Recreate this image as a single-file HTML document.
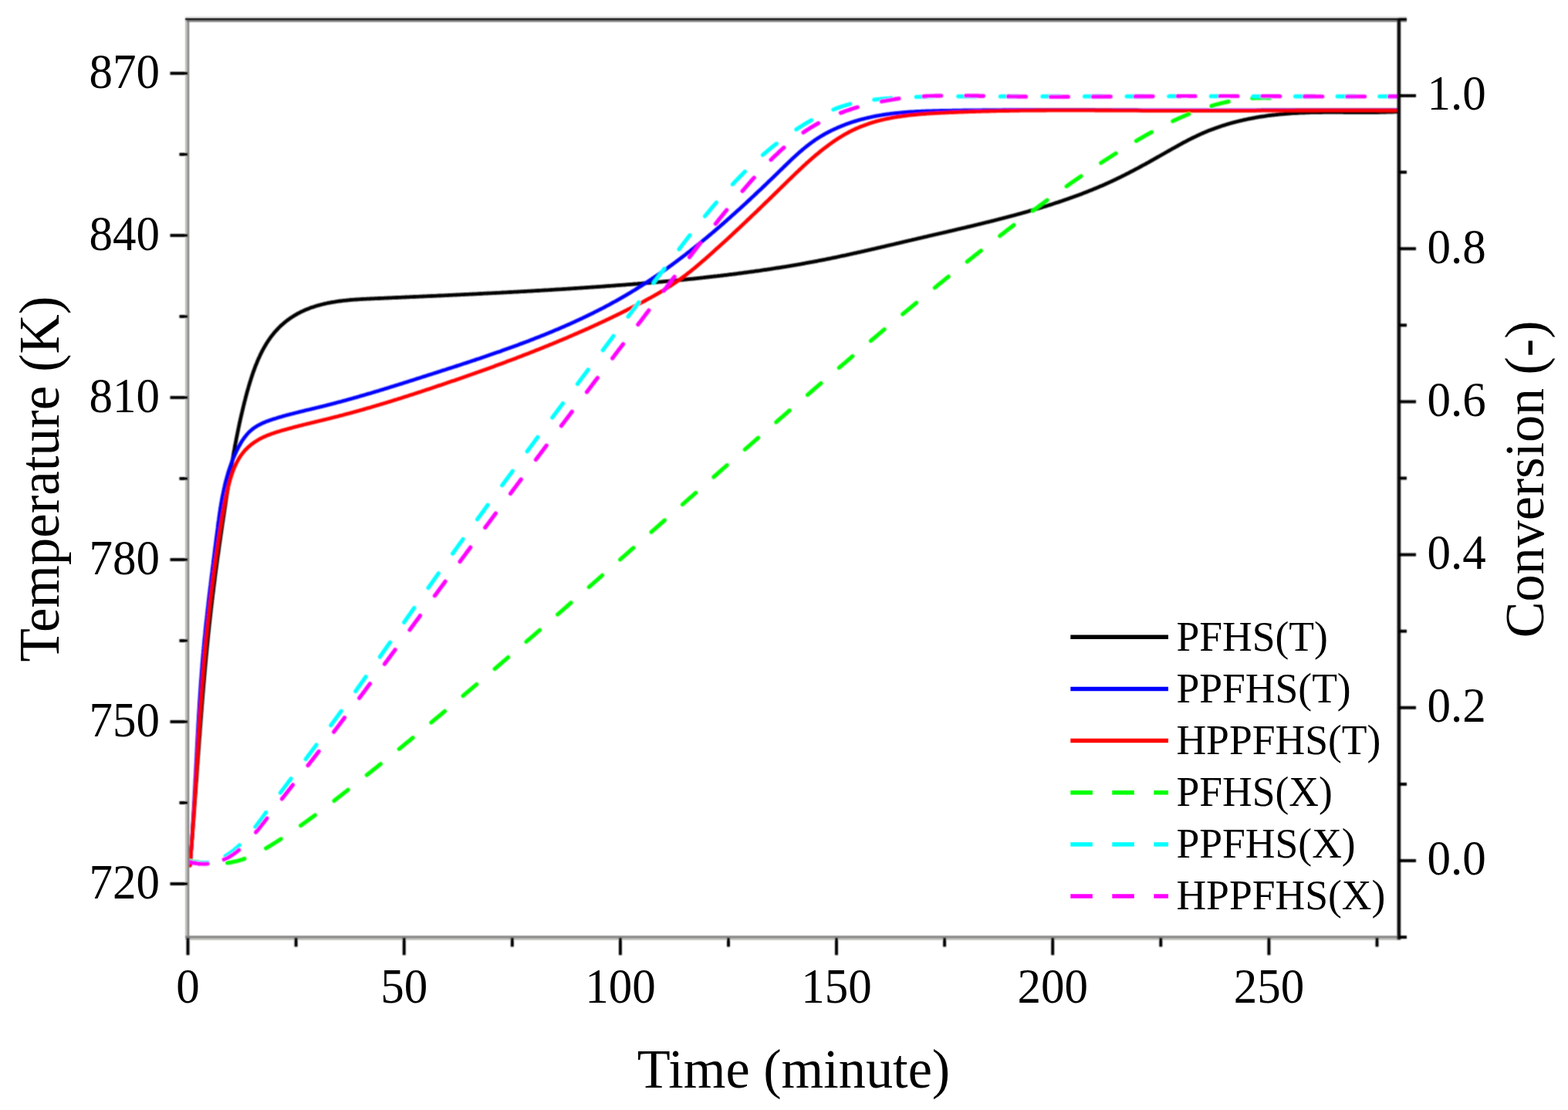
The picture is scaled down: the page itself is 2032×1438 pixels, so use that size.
<!DOCTYPE html><html><head><meta charset="utf-8"><style>html,body{margin:0;padding:0;background:#fff}svg{display:block}text{font-family:"Liberation Serif","Times New Roman",serif;fill:#000}</style></head><body>
<svg width="2032" height="1438" viewBox="0 0 2032 1438">
<rect width="2032" height="1438" fill="#fff"/>
<defs><clipPath id="pc"><rect x="243" y="23" width="1569" height="1192"/></clipPath><filter id="bl" filterUnits="userSpaceOnUse" x="0" y="0" width="2032" height="1438"><feConvolveMatrix order="3" kernelMatrix="0.0625 0.125 0.0625 0.125 0.25 0.125 0.0625 0.125 0.0625" edgeMode="none"/></filter></defs>
<g filter="url(#bl)">
<g clip-path="url(#pc)" fill="none" stroke-linejoin="round">
<path d="M246.2 1121.0L246.3 1119.5 246.4 1118.0 246.6 1116.5 246.7 1115.0 246.8 1113.5 246.9 1112.0 247.1 1110.5 247.2 1109.0 247.3 1107.5 247.4 1106.0 247.5 1104.5 247.7 1103.0 247.8 1101.5 247.9 1100.0 248.0 1098.5 248.1 1097.0 248.3 1095.6 248.4 1094.1 248.5 1092.6 248.6 1091.1 248.7 1089.6 248.8 1088.1 249.0 1086.6 249.1 1085.1 249.2 1083.6 249.3 1082.1 249.4 1080.6 249.5 1079.1 249.6 1077.6 249.8 1076.1 249.9 1074.6 250.0 1073.1 250.1 1071.6 250.2 1070.1 250.3 1068.6 250.4 1067.1 250.5 1065.6 250.7 1064.1 250.8 1062.6 250.9 1061.1 251.0 1059.6 251.1 1058.1 251.2 1056.7 251.3 1055.2 251.4 1053.7 251.5 1052.2 251.7 1050.7 251.8 1049.2 251.9 1047.7 252.0 1046.2 252.1 1044.7 252.2 1043.2 252.3 1041.7 252.4 1040.2 252.5 1038.7 252.6 1037.2 252.7 1035.7 252.8 1034.2 253.0 1032.7 253.1 1031.2 253.2 1029.7 253.3 1028.2 253.4 1026.8 253.5 1025.3 253.6 1023.8 253.7 1022.3 253.8 1020.8 253.9 1019.3 254.0 1017.8 254.1 1016.3 254.2 1014.8 254.3 1013.3 254.5 1011.8 254.6 1010.3 254.7 1008.8 254.8 1007.3 254.9 1005.8 255.0 1004.3 255.1 1002.8 255.2 1001.3 255.3 999.8 255.4 998.4 255.5 996.9 255.6 995.4 255.7 993.9 255.8 992.4 255.9 990.9 256.1 989.4 256.2 987.9 256.3 986.4 256.4 984.9 256.5 983.4 256.6 981.9 256.7 980.4 256.8 978.9 256.9 977.4 257.0 975.9 257.1 974.5 257.2 973.0 257.3 971.5 257.5 970.0 257.6 968.5 257.7 967.0 257.8 965.5 257.9 964.0 258.0 962.5 258.1 961.0 258.2 959.5 258.3 958.0 258.4 956.5 258.5 955.0 258.7 953.5 258.8 952.0 258.9 950.6 259.0 949.1 259.1 947.6 259.2 946.1 259.3 944.6 259.4 943.1 259.5 941.6 259.7 940.1 259.8 938.6 259.9 937.1 260.0 935.6 260.1 934.1 260.2 932.6 260.3 931.1 260.5 929.6 260.6 928.2 260.7 926.7 260.8 925.2 260.9 923.7 261.0 922.2 261.2 920.7 261.3 919.2 261.4 917.7 261.5 916.2 261.6 914.7 261.7 913.2 261.9 911.7 262.0 910.2 262.1 908.7 262.2 907.2 262.3 905.8 262.5 904.3 262.6 902.8 262.7 901.3 262.8 899.8 262.9 898.3 263.1 896.8 263.2 895.3 263.3 893.8 263.4 892.3 263.6 890.8 263.7 889.3 263.8 887.8 263.9 886.3 264.1 884.9 264.2 883.4 264.3 881.9 264.5 880.4 264.6 878.9 264.7 877.4 264.8 875.9 265.0 874.4 265.1 872.9 265.2 871.4 265.4 869.9 265.5 868.4 265.6 866.9 265.8 865.4 265.9 863.9 266.0 862.5 266.2 861.0 266.3 859.5 266.4 858.0 266.6 856.5 266.7 855.0 266.9 853.5 267.0 852.0 267.1 850.5 267.3 849.0 267.4 847.5 267.6 846.0 267.7 844.5 267.9 843.0 268.0 841.6 268.1 840.1 268.3 838.6 268.4 837.1 268.6 835.6 268.7 834.1 268.9 832.6 269.0 831.1 269.2 829.6 269.3 828.1 269.5 826.6 269.6 825.1 269.8 823.6 269.9 822.1 270.1 820.7 270.2 819.2 270.4 817.7 270.6 816.2 270.7 814.7 270.9 813.2 271.0 811.7 271.2 810.2 271.3 808.7 271.5 807.2 271.7 805.7 271.8 804.2 272.0 802.7 272.2 801.2 272.3 799.7 272.5 798.3 272.7 796.8 272.8 795.3 273.0 793.8 273.2 792.3 273.3 790.8 273.5 789.3 273.7 787.8 273.9 786.3 274.0 784.8 274.2 783.3 274.4 781.8 274.6 780.3 274.7 778.8 274.9 777.3 275.1 775.9 275.3 774.4 275.4 772.9 275.6 771.4 275.8 769.9 276.0 768.4 276.2 766.9 276.4 765.4 276.6 763.9 276.7 762.4 276.9 760.9 277.1 759.4 277.3 757.9 277.5 756.4 277.7 755.0 277.9 753.5 278.1 752.0 278.3 750.5 278.4 749.0 278.6 747.5 278.8 746.0 279.0 744.5 279.2 743.0 279.4 741.5 279.6 740.0 279.8 738.5 280.0 737.0 280.2 735.6 280.4 734.1 280.6 732.6 280.8 731.1 281.0 729.6 281.2 728.1 281.4 726.6 281.6 725.1 281.8 723.6 282.0 722.1 282.2 720.7 282.4 719.2 282.7 717.7 282.9 716.2 283.1 714.7 283.3 713.2 283.5 711.7 283.7 710.2 283.9 708.7 284.1 707.3 284.3 705.8 284.5 704.3 284.8 702.8 285.0 701.3 285.2 699.8 285.4 698.3 285.6 696.9 285.8 695.4 286.0 693.9 286.2 692.4 286.5 690.9 286.7 689.4 286.9 687.9 287.1 686.5 287.3 685.0 287.6 683.5 287.8 682.0 288.0 680.5 288.2 679.0 288.4 677.6 288.7 676.1 288.9 674.6 289.1 673.1 289.3 671.6 289.5 670.2 289.8 668.7 290.0 667.2 290.2 665.7 290.4 664.2 290.7 662.8 290.9 661.3 291.1 659.8 291.3 658.3 291.6 656.8 291.8 655.4 292.0 653.9 292.2 652.4 292.5 650.9 292.7 649.5 292.9 648.0 293.1 646.5 293.4 645.0 293.6 643.6 293.8 642.1 294.1 640.6 294.3 639.1 294.5 637.7 294.7 636.2 295.0 634.7 295.2 633.3 295.4 631.8 295.7 630.3 295.9 628.8 296.1 627.4 296.4 625.9 296.6 624.4 296.8 623.0 297.1 621.5 297.3 620.0 297.5 618.6 297.8 617.1 298.0 615.6 298.2 614.2 298.5 612.7 298.7 611.2 299.0 609.8 299.2 608.3 299.4 606.8 299.7 605.4 299.9 603.9 300.2 602.4 300.4 601.0 300.7 599.5 300.9 598.0 301.2 596.6 301.4 595.1 301.7 593.6 301.9 592.2 302.2 590.7 302.4 589.3 302.7 587.8 303.0 586.3 303.2 584.9 303.5 583.4 303.8 581.9 304.0 580.5 304.3 579.0 304.6 577.5 304.8 576.1 305.1 574.6 305.4 573.1 305.7 571.7 306.0 570.2 306.2 568.7 306.5 567.3 306.8 565.8 307.1 564.4 307.4 562.9 307.7 561.4 308.0 560.0 308.3 558.5 308.6 557.0 308.9 555.6 309.2 554.1 309.5 552.6 309.8 551.2 310.1 549.7 310.4 548.2 310.8 546.7 311.1 545.3 311.4 543.8 311.7 542.3 312.1 540.9 312.4 539.4 312.7 537.9 313.1 536.5 313.4 535.0 313.8 533.5 314.1 532.0 314.5 530.6 314.8 529.1 315.2 527.6 315.5 526.1 315.9 524.7 316.3 523.2 316.6 521.7 317.0 520.2 317.4 518.8 317.8 517.3 318.1 515.8 318.5 514.3 318.9 512.9 319.3 511.4 319.7 509.9 320.1 508.4 320.5 506.9 320.9 505.5 321.4 504.0 321.8 502.5 322.2 501.0 322.6 499.5 323.1 498.1 323.5 496.6 324.0 495.1 324.4 493.6 324.9 492.2 325.3 490.7 325.8 489.2 326.3 487.8 326.8 486.3 327.2 484.9 327.7 483.4 328.2 482.0 328.8 480.5 329.3 479.1 329.8 477.7 330.3 476.2 330.9 474.8 331.4 473.4 332.0 472.0 332.6 470.6 333.1 469.2 333.7 467.8 334.3 466.4 334.9 465.0 335.5 463.6 336.2 462.2 336.8 460.9 337.4 459.5 338.1 458.2 338.7 456.9 339.4 455.5 340.1 454.2 340.8 452.9 341.5 451.6 342.2 450.3 343.0 449.0 343.7 447.7 344.5 446.5 345.2 445.2 346.0 444.0 346.8 442.7 347.6 441.5 348.4 440.3 349.2 439.1 350.1 437.9 350.9 436.7 351.8 435.6 352.7 434.4 353.6 433.3 354.5 432.2 355.4 431.0 356.4 429.9 357.3 428.9 358.3 427.8 359.3 426.7 360.3 425.7 361.3 424.6 362.3 423.6 363.3 422.6 364.4 421.6 365.5 420.7 366.6 419.7 367.7 418.8 368.8 417.8 369.9 416.9 371.0 416.0 372.2 415.1 373.4 414.3 374.5 413.4 375.7 412.6 376.9 411.8 378.1 410.9 379.3 410.2 380.6 409.4 381.8 408.6 383.1 407.9 384.4 407.1 385.6 406.4 386.9 405.7 388.2 405.1 389.5 404.4 390.8 403.7 392.2 403.1 393.5 402.5 394.8 401.9 396.2 401.3 397.6 400.7 398.9 400.2 400.3 399.7 401.7 399.1 403.1 398.6 404.5 398.1 405.9 397.7 407.3 397.2 408.7 396.7 410.1 396.3 411.6 395.9 413.0 395.5 414.4 395.1 415.9 394.7 417.3 394.3 418.8 394.0 420.2 393.6 421.7 393.3 423.1 393.0 424.6 392.7 426.0 392.4 427.5 392.1 429.0 391.8 430.4 391.5 431.9 391.3 433.4 391.1 434.9 390.8 436.4 390.6 437.8 390.4 439.3 390.2 440.8 390.0 442.3 389.8 443.8 389.6 445.3 389.4 446.8 389.3 448.3 389.1 449.8 389.0 451.3 388.8 452.8 388.7 454.3 388.5 455.8 388.4 457.3 388.3 458.8 388.2 460.3 388.1 461.8 388.0 463.3 387.9 464.9 387.8 466.4 387.7 467.9 387.6 469.4 387.5 470.9 387.4 472.4 387.4 473.9 387.3 475.5 387.2 477.0 387.1 478.5 387.1 480.0 387.0 481.5 386.9 483.0 386.9 484.6 386.8 486.1 386.7 487.6 386.7 489.1 386.6 490.6 386.5 492.1 386.5 493.6 386.4 495.2 386.3 496.7 386.3 498.2 386.2 499.7 386.1 501.2 386.1 502.7 386.0 504.2 385.9 505.8 385.9 507.3 385.8 508.8 385.7 510.3 385.7 511.8 385.6 513.3 385.5 514.8 385.5 516.3 385.4 517.8 385.3 519.4 385.3 520.9 385.2 522.4 385.1 523.9 385.1 525.4 385.0 526.9 384.9 528.4 384.9 529.9 384.8 531.4 384.7 532.9 384.7 534.4 384.6 536.0 384.5 537.5 384.5 539.0 384.4 540.5 384.3 542.0 384.3 543.5 384.2 545.0 384.1 546.5 384.1 548.0 384.0 549.5 383.9 551.0 383.9 552.5 383.8 554.0 383.7 555.5 383.7 557.0 383.6 558.5 383.5 560.0 383.5 561.5 383.4 563.1 383.3 564.6 383.3 566.1 383.2 567.6 383.1 569.1 383.0 570.6 383.0 572.1 382.9 573.6 382.8 575.1 382.8 576.6 382.7 578.1 382.6 579.6 382.6 581.1 382.5 582.6 382.4 584.1 382.4 585.6 382.3 587.1 382.2 588.6 382.1 590.1 382.1 591.6 382.0 593.1 381.9 594.6 381.9 596.1 381.8 597.6 381.7 599.1 381.6 600.6 381.6 602.1 381.5 603.6 381.4 605.1 381.4 606.6 381.3 608.1 381.2 609.6 381.1 611.1 381.1 612.6 381.0 614.1 380.9 615.6 380.8 617.1 380.8 618.6 380.7 620.1 380.6 621.6 380.5 623.1 380.5 624.6 380.4 626.0 380.3 627.5 380.2 629.0 380.2 630.5 380.1 632.0 380.0 633.5 379.9 635.0 379.9 636.5 379.8 638.0 379.7 639.5 379.6 641.0 379.6 642.5 379.5 644.0 379.4 645.5 379.3 647.0 379.3 648.5 379.2 650.0 379.1 651.5 379.0 653.0 378.9 654.5 378.9 656.0 378.8 657.5 378.7 658.9 378.6 660.4 378.5 661.9 378.5 663.4 378.4 664.9 378.3 666.4 378.2 667.9 378.1 669.4 378.1 670.9 378.0 672.4 377.9 673.9 377.8 675.4 377.7 676.9 377.6 678.4 377.6 679.9 377.5 681.4 377.4 682.8 377.3 684.3 377.2 685.8 377.1 687.3 377.1 688.8 377.0 690.3 376.9 691.8 376.8 693.3 376.7 694.8 376.6 696.3 376.5 697.8 376.5 699.3 376.4 700.8 376.3 702.2 376.2 703.7 376.1 705.2 376.0 706.7 375.9 708.2 375.8 709.7 375.8 711.2 375.7 712.7 375.6 714.2 375.5 715.7 375.4 717.2 375.3 718.7 375.2 720.2 375.1 721.6 375.0 723.1 374.9 724.6 374.8 726.1 374.8 727.6 374.7 729.1 374.6 730.6 374.5 732.1 374.4 733.6 374.3 735.1 374.2 736.6 374.1 738.1 374.0 739.6 373.9 741.0 373.8 742.5 373.7 744.0 373.6 745.5 373.5 747.0 373.4 748.5 373.3 750.0 373.2 751.5 373.1 753.0 373.0 754.5 372.9 756.0 372.8 757.5 372.7 758.9 372.6 760.4 372.5 761.9 372.4 763.4 372.3 764.9 372.2 766.4 372.1 767.9 372.0 769.4 371.9 770.9 371.8 772.4 371.7 773.9 371.6 775.4 371.5 776.9 371.4 778.3 371.3 779.8 371.2 781.3 371.1 782.8 371.0 784.3 370.9 785.8 370.7 787.3 370.6 788.8 370.5 790.3 370.4 791.8 370.3 793.3 370.2 794.8 370.1 796.3 370.0 797.8 369.9 799.3 369.7 800.7 369.6 802.2 369.5 803.7 369.4 805.2 369.3 806.7 369.2 808.2 369.1 809.7 369.0 811.2 368.8 812.7 368.7 814.2 368.6 815.7 368.5 817.2 368.4 818.7 368.3 820.2 368.1 821.7 368.0 823.2 367.9 824.7 367.8 826.1 367.7 827.6 367.5 829.1 367.4 830.6 367.3 832.1 367.2 833.6 367.0 835.1 366.9 836.6 366.8 838.1 366.7 839.6 366.5 841.1 366.4 842.6 366.3 844.1 366.2 845.6 366.0 847.1 365.9 848.6 365.8 850.1 365.6 851.6 365.5 853.1 365.4 854.6 365.2 856.1 365.1 857.5 365.0 859.0 364.8 860.5 364.7 862.0 364.6 863.5 364.4 865.0 364.3 866.5 364.2 868.0 364.0 869.5 363.9 871.0 363.8 872.5 363.6 874.0 363.5 875.5 363.3 877.0 363.2 878.5 363.0 880.0 362.9 881.5 362.8 883.0 362.6 884.5 362.5 886.0 362.3 887.5 362.2 888.9 362.0 890.4 361.9 891.9 361.7 893.4 361.6 894.9 361.4 896.4 361.3 897.9 361.1 899.4 361.0 900.9 360.8 902.4 360.6 903.9 360.5 905.4 360.3 906.9 360.2 908.4 360.0 909.9 359.8 911.4 359.7 912.9 359.5 914.3 359.4 915.8 359.2 917.3 359.0 918.8 358.9 920.3 358.7 921.8 358.5 923.3 358.4 924.8 358.2 926.3 358.0 927.8 357.8 929.3 357.7 930.8 357.5 932.3 357.3 933.8 357.2 935.2 357.0 936.7 356.8 938.2 356.6 939.7 356.4 941.2 356.3 942.7 356.1 944.2 355.9 945.7 355.7 947.2 355.5 948.7 355.3 950.2 355.2 951.6 355.0 953.1 354.8 954.6 354.6 956.1 354.4 957.6 354.2 959.1 354.0 960.6 353.8 962.1 353.6 963.6 353.4 965.1 353.2 966.5 353.0 968.0 352.8 969.5 352.6 971.0 352.4 972.5 352.2 974.0 352.0 975.5 351.8 977.0 351.6 978.4 351.4 979.9 351.2 981.4 351.0 982.9 350.8 984.4 350.6 985.9 350.3 987.4 350.1 988.8 349.9 990.3 349.7 991.8 349.5 993.3 349.3 994.8 349.0 996.3 348.8 997.8 348.6 999.2 348.4 1000.7 348.1 1002.2 347.9 1003.7 347.7 1005.2 347.4 1006.7 347.2 1008.1 347.0 1009.6 346.8 1011.1 346.5 1012.6 346.3 1014.1 346.0 1015.5 345.8 1017.0 345.6 1018.5 345.3 1020.0 345.1 1021.5 344.8 1022.9 344.6 1024.4 344.3 1025.9 344.1 1027.4 343.8 1028.9 343.6 1030.3 343.3 1031.8 343.1 1033.3 342.8 1034.8 342.6 1036.2 342.3 1037.7 342.1 1039.2 341.8 1040.7 341.5 1042.2 341.3 1043.6 341.0 1045.1 340.7 1046.6 340.5 1048.1 340.2 1049.5 339.9 1051.0 339.6 1052.5 339.4 1053.9 339.1 1055.4 338.8 1056.9 338.5 1058.4 338.3 1059.8 338.0 1061.3 337.7 1062.8 337.4 1064.3 337.1 1065.7 336.8 1067.2 336.5 1068.7 336.3 1070.1 336.0 1071.6 335.7 1073.1 335.4 1074.5 335.1 1076.0 334.8 1077.5 334.5 1078.9 334.2 1080.4 333.9 1081.9 333.6 1083.3 333.3 1084.8 333.0 1086.3 332.7 1087.7 332.3 1089.2 332.0 1090.7 331.7 1092.1 331.4 1093.6 331.1 1095.1 330.8 1096.5 330.5 1098.0 330.1 1099.5 329.8 1100.9 329.5 1102.4 329.2 1103.8 328.9 1105.3 328.5 1106.8 328.2 1108.2 327.9 1109.7 327.6 1111.2 327.2 1112.6 326.9 1114.1 326.6 1115.5 326.3 1117.0 325.9 1118.5 325.6 1119.9 325.3 1121.4 324.9 1122.8 324.6 1124.3 324.3 1125.8 323.9 1127.2 323.6 1128.7 323.3 1130.2 322.9 1131.6 322.6 1133.1 322.3 1134.5 321.9 1136.0 321.6 1137.4 321.2 1138.9 320.9 1140.4 320.6 1141.8 320.2 1143.3 319.9 1144.7 319.6 1146.2 319.2 1147.7 318.9 1149.1 318.5 1150.6 318.2 1152.0 317.8 1153.5 317.5 1155.0 317.2 1156.4 316.8 1157.9 316.5 1159.3 316.1 1160.8 315.8 1162.3 315.4 1163.7 315.1 1165.2 314.8 1166.6 314.4 1168.1 314.1 1169.5 313.7 1171.0 313.4 1172.5 313.0 1173.9 312.7 1175.4 312.4 1176.8 312.0 1178.3 311.7 1179.8 311.3 1181.2 311.0 1182.7 310.6 1184.1 310.3 1185.6 310.0 1187.1 309.6 1188.5 309.3 1190.0 308.9 1191.4 308.6 1192.9 308.3 1194.4 307.9 1195.8 307.6 1197.3 307.2 1198.7 306.9 1200.2 306.6 1201.7 306.2 1203.1 305.9 1204.6 305.5 1206.1 305.2 1207.5 304.9 1209.0 304.5 1210.4 304.2 1211.9 303.8 1213.4 303.5 1214.8 303.2 1216.3 302.8 1217.7 302.5 1219.2 302.2 1220.7 301.8 1222.1 301.5 1223.6 301.1 1225.1 300.8 1226.5 300.5 1228.0 300.1 1229.4 299.8 1230.9 299.4 1232.4 299.1 1233.8 298.8 1235.3 298.4 1236.7 298.1 1238.2 297.7 1239.7 297.4 1241.1 297.0 1242.6 296.7 1244.0 296.4 1245.5 296.0 1247.0 295.7 1248.4 295.3 1249.9 295.0 1251.4 294.6 1252.8 294.3 1254.3 293.9 1255.7 293.6 1257.2 293.3 1258.7 292.9 1260.1 292.6 1261.6 292.2 1263.0 291.9 1264.5 291.5 1265.9 291.2 1267.4 290.8 1268.9 290.4 1270.3 290.1 1271.8 289.7 1273.2 289.4 1274.7 289.0 1276.1 288.7 1277.6 288.3 1279.1 287.9 1280.5 287.6 1282.0 287.2 1283.4 286.9 1284.9 286.5 1286.3 286.1 1287.8 285.8 1289.3 285.4 1290.7 285.0 1292.2 284.7 1293.6 284.3 1295.1 283.9 1296.5 283.5 1298.0 283.2 1299.4 282.8 1300.9 282.4 1302.3 282.0 1303.8 281.7 1305.2 281.3 1306.7 280.9 1308.1 280.5 1309.6 280.1 1311.0 279.7 1312.5 279.4 1313.9 279.0 1315.4 278.6 1316.8 278.2 1318.3 277.8 1319.7 277.4 1321.2 277.0 1322.6 276.6 1324.1 276.2 1325.5 275.8 1327.0 275.4 1328.4 275.0 1329.8 274.6 1331.3 274.2 1332.7 273.8 1334.2 273.3 1335.6 272.9 1337.1 272.5 1338.5 272.1 1339.9 271.7 1341.4 271.3 1342.8 270.8 1344.3 270.4 1345.7 270.0 1347.1 269.5 1348.6 269.1 1350.0 268.7 1351.4 268.2 1352.9 267.8 1354.3 267.4 1355.7 266.9 1357.2 266.5 1358.6 266.0 1360.0 265.6 1361.5 265.1 1362.9 264.7 1364.3 264.2 1365.7 263.8 1367.2 263.3 1368.6 262.8 1370.0 262.4 1371.4 261.9 1372.9 261.4 1374.3 260.9 1375.7 260.5 1377.1 260.0 1378.5 259.5 1379.9 259.0 1381.4 258.5 1382.8 258.0 1384.2 257.6 1385.6 257.1 1387.0 256.6 1388.4 256.1 1389.8 255.6 1391.2 255.0 1392.6 254.5 1394.1 254.0 1395.5 253.5 1396.9 253.0 1398.3 252.5 1399.7 251.9 1401.1 251.4 1402.5 250.9 1403.9 250.3 1405.3 249.8 1406.7 249.3 1408.0 248.7 1409.4 248.2 1410.8 247.6 1412.2 247.1 1413.6 246.5 1415.0 246.0 1416.4 245.4 1417.8 244.8 1419.1 244.3 1420.5 243.7 1421.9 243.1 1423.3 242.5 1424.7 241.9 1426.0 241.3 1427.4 240.8 1428.8 240.2 1430.1 239.6 1431.5 239.0 1432.9 238.3 1434.3 237.7 1435.6 237.1 1437.0 236.5 1438.3 235.9 1439.7 235.3 1441.1 234.6 1442.4 234.0 1443.8 233.4 1445.1 232.7 1446.5 232.1 1447.8 231.4 1449.2 230.8 1450.5 230.1 1451.9 229.5 1453.2 228.8 1454.5 228.1 1455.9 227.5 1457.2 226.8 1458.6 226.1 1459.9 225.4 1461.2 224.8 1462.6 224.1 1463.9 223.4 1465.2 222.7 1466.6 222.0 1467.9 221.3 1469.2 220.6 1470.6 219.9 1471.9 219.2 1473.2 218.5 1474.5 217.8 1475.9 217.1 1477.2 216.4 1478.5 215.7 1479.8 214.9 1481.2 214.2 1482.5 213.5 1483.8 212.8 1485.1 212.1 1486.4 211.3 1487.8 210.6 1489.1 209.9 1490.4 209.1 1491.7 208.4 1493.0 207.7 1494.3 206.9 1495.7 206.2 1497.0 205.4 1498.3 204.7 1499.6 203.9 1500.9 203.2 1502.2 202.5 1503.5 201.7 1504.8 201.0 1506.2 200.2 1507.5 199.5 1508.8 198.7 1510.1 198.0 1511.4 197.2 1512.7 196.5 1514.0 195.7 1515.4 195.0 1516.7 194.2 1518.0 193.5 1519.3 192.7 1520.6 192.0 1521.9 191.3 1523.3 190.5 1524.6 189.8 1525.9 189.1 1527.2 188.3 1528.5 187.6 1529.9 186.9 1531.2 186.2 1532.5 185.4 1533.8 184.7 1535.2 184.0 1536.5 183.3 1537.8 182.6 1539.2 181.9 1540.5 181.2 1541.8 180.5 1543.2 179.9 1544.5 179.2 1545.9 178.5 1547.2 177.9 1548.6 177.2 1549.9 176.6 1551.3 175.9 1552.6 175.3 1554.0 174.7 1555.3 174.0 1556.7 173.4 1558.1 172.8 1559.4 172.2 1560.8 171.6 1562.2 171.0 1563.5 170.5 1564.9 169.9 1566.3 169.3 1567.7 168.8 1569.1 168.3 1570.5 167.7 1571.9 167.2 1573.2 166.7 1574.6 166.2 1576.0 165.7 1577.4 165.2 1578.9 164.7 1580.3 164.2 1581.7 163.7 1583.1 163.3 1584.5 162.8 1585.9 162.4 1587.3 161.9 1588.7 161.5 1590.2 161.0 1591.6 160.6 1593.0 160.2 1594.4 159.8 1595.9 159.4 1597.3 159.0 1598.7 158.6 1600.2 158.2 1601.6 157.9 1603.1 157.5 1604.5 157.1 1605.9 156.8 1607.4 156.4 1608.8 156.1 1610.3 155.8 1611.7 155.4 1613.2 155.1 1614.6 154.8 1616.1 154.5 1617.6 154.2 1619.0 153.9 1620.5 153.6 1621.9 153.3 1623.4 153.0 1624.9 152.8 1626.3 152.5 1627.8 152.2 1629.3 152.0 1630.8 151.7 1632.2 151.5 1633.7 151.2 1635.2 151.0 1636.7 150.8 1638.1 150.6 1639.6 150.4 1641.1 150.1 1642.6 149.9 1644.1 149.7 1645.5 149.5 1647.0 149.4 1648.5 149.2 1650.0 149.0 1651.5 148.8 1653.0 148.7 1654.5 148.5 1655.9 148.3 1657.4 148.2 1658.9 148.0 1660.4 147.9 1661.9 147.8 1663.4 147.6 1664.9 147.5 1666.4 147.4 1667.9 147.3 1669.4 147.1 1670.9 147.0 1672.4 146.9 1673.9 146.8 1675.4 146.7 1676.9 146.6 1678.4 146.5 1679.9 146.5 1681.4 146.4 1682.9 146.3 1684.4 146.2 1685.9 146.2 1687.4 146.1 1688.9 146.0 1690.4 146.0 1691.9 145.9 1693.4 145.9 1694.9 145.8 1696.4 145.8 1697.9 145.7 1699.4 145.7 1700.9 145.7 1702.4 145.6 1703.9 145.6 1705.4 145.6 1706.9 145.5 1708.4 145.5 1709.9 145.5 1711.5 145.5 1713.0 145.5 1714.5 145.4 1716.0 145.4 1717.5 145.4 1719.0 145.4 1720.5 145.4 1722.0 145.4 1723.5 145.4 1725.0 145.4 1726.5 145.4 1728.0 145.4 1729.5 145.4 1731.0 145.4 1732.5 145.4 1734.0 145.4 1735.5 145.4 1737.1 145.4 1738.6 145.4 1740.1 145.4 1741.6 145.5 1743.1 145.5 1744.6 145.5 1746.1 145.5 1747.6 145.5 1749.1 145.5 1750.6 145.5 1752.1 145.5 1753.6 145.5 1755.1 145.5 1756.6 145.5 1758.1 145.6 1759.6 145.6 1761.1 145.6 1762.6 145.6 1764.1 145.6 1765.6 145.6 1767.1 145.6 1768.6 145.6 1770.1 145.6 1771.6 145.6 1773.1 145.6 1774.6 145.6 1776.1 145.6 1777.6 145.6 1779.1 145.5 1780.6 145.5 1782.1 145.5 1783.6 145.5 1785.1 145.5 1786.6 145.5 1788.1 145.4 1789.6 145.4 1791.1 145.4 1792.6 145.3 1794.1 145.3 1795.6 145.3 1797.1 145.2 1798.6 145.2 1800.1 145.1 1801.6 145.1 1803.1 145.0 1804.6 145.0 1806.1 144.9 1807.6 144.9 1809.0 144.8 1810.5 144.7 1812.0 144.6 1813.5 144.6 1815.0 144.5" stroke="#000" stroke-width="4.8" stroke-linecap="round"/>
<path d="M246.2 1121.0L246.3 1119.5 246.4 1118.0 246.5 1116.5 246.7 1115.0 246.8 1113.6 246.9 1112.1 247.0 1110.6 247.1 1109.1 247.2 1107.6 247.3 1106.1 247.4 1104.6 247.5 1103.1 247.7 1101.7 247.8 1100.2 247.9 1098.7 248.0 1097.2 248.1 1095.7 248.2 1094.2 248.3 1092.7 248.4 1091.2 248.5 1089.7 248.6 1088.2 248.7 1086.7 248.8 1085.2 248.9 1083.8 249.0 1082.3 249.1 1080.8 249.2 1079.3 249.3 1077.8 249.4 1076.3 249.5 1074.8 249.6 1073.3 249.7 1071.8 249.8 1070.3 249.8 1068.8 249.9 1067.3 250.0 1065.8 250.1 1064.3 250.2 1062.8 250.3 1061.3 250.4 1059.8 250.5 1058.3 250.6 1056.8 250.7 1055.3 250.7 1053.8 250.8 1052.3 250.9 1050.8 251.0 1049.3 251.1 1047.8 251.2 1046.3 251.3 1044.8 251.3 1043.3 251.4 1041.8 251.5 1040.3 251.6 1038.8 251.7 1037.3 251.8 1035.8 251.8 1034.3 251.9 1032.8 252.0 1031.3 252.1 1029.8 252.2 1028.3 252.2 1026.8 252.3 1025.3 252.4 1023.8 252.5 1022.3 252.6 1020.8 252.6 1019.3 252.7 1017.8 252.8 1016.3 252.9 1014.8 253.0 1013.3 253.0 1011.8 253.1 1010.3 253.2 1008.8 253.3 1007.3 253.4 1005.8 253.4 1004.3 253.5 1002.8 253.6 1001.3 253.7 999.8 253.7 998.3 253.8 996.8 253.9 995.3 254.0 993.8 254.1 992.3 254.1 990.8 254.2 989.3 254.3 987.8 254.4 986.3 254.4 984.8 254.5 983.3 254.6 981.8 254.7 980.3 254.8 978.8 254.8 977.3 254.9 975.8 255.0 974.3 255.1 972.8 255.1 971.3 255.2 969.7 255.3 968.2 255.4 966.7 255.5 965.2 255.5 963.7 255.6 962.2 255.7 960.7 255.8 959.2 255.9 957.7 255.9 956.2 256.0 954.7 256.1 953.2 256.2 951.7 256.3 950.2 256.4 948.7 256.4 947.2 256.5 945.7 256.6 944.2 256.7 942.7 256.8 941.2 256.8 939.7 256.9 938.2 257.0 936.7 257.1 935.2 257.2 933.7 257.3 932.2 257.4 930.7 257.4 929.2 257.5 927.7 257.6 926.2 257.7 924.7 257.8 923.2 257.9 921.7 258.0 920.2 258.1 918.7 258.2 917.2 258.3 915.7 258.3 914.2 258.4 912.7 258.5 911.2 258.6 909.7 258.7 908.2 258.8 906.7 258.9 905.2 259.0 903.7 259.1 902.2 259.2 900.7 259.3 899.2 259.4 897.7 259.5 896.2 259.6 894.7 259.7 893.2 259.8 891.7 259.9 890.2 260.0 888.7 260.1 887.2 260.2 885.7 260.3 884.2 260.4 882.7 260.5 881.3 260.6 879.8 260.8 878.3 260.9 876.8 261.0 875.3 261.1 873.8 261.2 872.3 261.3 870.8 261.4 869.3 261.5 867.8 261.7 866.3 261.8 864.8 261.9 863.3 262.0 861.8 262.1 860.4 262.2 858.9 262.4 857.4 262.5 855.9 262.6 854.4 262.7 852.9 262.9 851.4 263.0 849.9 263.1 848.4 263.2 846.9 263.4 845.5 263.5 844.0 263.6 842.5 263.8 841.0 263.9 839.5 264.0 838.0 264.2 836.5 264.3 835.1 264.5 833.6 264.6 832.1 264.7 830.6 264.9 829.1 265.0 827.6 265.2 826.1 265.3 824.7 265.5 823.2 265.6 821.7 265.8 820.2 265.9 818.7 266.1 817.3 266.2 815.8 266.4 814.3 266.5 812.8 266.7 811.3 266.8 809.8 267.0 808.4 267.1 806.9 267.3 805.4 267.5 803.9 267.6 802.4 267.8 801.0 267.9 799.5 268.1 798.0 268.3 796.5 268.4 795.0 268.6 793.6 268.8 792.1 268.9 790.6 269.1 789.1 269.3 787.6 269.4 786.2 269.6 784.7 269.8 783.2 269.9 781.7 270.1 780.2 270.3 778.8 270.4 777.3 270.6 775.8 270.8 774.3 271.0 772.8 271.1 771.3 271.3 769.9 271.5 768.4 271.7 766.9 271.9 765.4 272.0 763.9 272.2 762.5 272.4 761.0 272.6 759.5 272.8 758.0 272.9 756.5 273.1 755.0 273.3 753.5 273.5 752.1 273.7 750.6 273.8 749.1 274.0 747.6 274.2 746.1 274.4 744.6 274.6 743.1 274.8 741.7 275.0 740.2 275.1 738.7 275.3 737.2 275.5 735.7 275.7 734.2 275.9 732.7 276.1 731.2 276.3 729.7 276.4 728.2 276.6 726.7 276.8 725.3 277.0 723.8 277.2 722.3 277.4 720.8 277.6 719.3 277.8 717.8 278.0 716.3 278.1 714.8 278.3 713.3 278.5 711.8 278.7 710.3 278.9 708.8 279.1 707.3 279.3 705.8 279.5 704.3 279.7 702.8 279.9 701.3 280.0 699.8 280.2 698.3 280.4 696.7 280.6 695.2 280.8 693.7 281.0 692.2 281.2 690.7 281.4 689.2 281.6 687.7 281.8 686.2 282.0 684.7 282.2 683.2 282.3 681.6 282.5 680.1 282.7 678.6 282.9 677.1 283.1 675.6 283.4 674.1 283.6 672.6 283.8 671.1 284.0 669.5 284.2 668.0 284.4 666.5 284.6 665.0 284.9 663.5 285.1 662.0 285.3 660.5 285.5 659.0 285.8 657.5 286.0 656.0 286.3 654.5 286.5 653.0 286.8 651.5 287.0 650.0 287.3 648.5 287.6 647.0 287.8 645.5 288.1 644.0 288.4 642.6 288.7 641.1 289.0 639.6 289.3 638.1 289.6 636.6 289.9 635.2 290.2 633.7 290.5 632.2 290.9 630.8 291.2 629.3 291.5 627.8 291.9 626.4 292.2 624.9 292.6 623.5 293.0 622.0 293.4 620.6 293.8 619.2 294.2 617.7 294.6 616.3 295.0 614.9 295.4 613.4 295.8 612.0 296.3 610.6 296.7 609.2 297.2 607.8 297.6 606.4 298.1 605.0 298.6 603.6 299.1 602.2 299.6 600.8 300.1 599.4 300.6 598.0 301.1 596.7 301.7 595.3 302.2 593.9 302.8 592.6 303.4 591.2 304.0 589.9 304.6 588.6 305.2 587.2 305.8 585.9 306.4 584.6 307.1 583.2 307.7 581.9 308.4 580.6 309.1 579.3 309.7 578.0 310.5 576.8 311.2 575.5 311.9 574.2 312.7 573.0 313.4 571.7 314.2 570.5 315.0 569.3 315.9 568.1 316.7 567.0 317.6 565.8 318.5 564.7 319.4 563.6 320.3 562.5 321.2 561.5 322.2 560.4 323.2 559.4 324.3 558.5 325.3 557.5 326.4 556.6 327.5 555.7 328.6 554.9 329.8 554.0 331.0 553.3 332.2 552.5 333.4 551.7 334.7 551.0 336.0 550.3 337.3 549.7 338.6 549.0 339.9 548.4 341.2 547.8 342.6 547.2 344.0 546.6 345.4 546.1 346.8 545.6 348.2 545.0 349.6 544.5 351.0 544.0 352.5 543.6 353.9 543.1 355.4 542.6 356.8 542.2 358.3 541.7 359.7 541.3 361.2 540.8 362.7 540.4 364.1 540.0 365.6 539.6 367.0 539.1 368.5 538.7 370.0 538.3 371.5 537.9 372.9 537.5 374.4 537.1 375.9 536.7 377.3 536.3 378.8 536.0 380.3 535.6 381.8 535.2 383.2 534.8 384.7 534.5 386.2 534.1 387.7 533.7 389.1 533.4 390.6 533.0 392.1 532.6 393.6 532.3 395.1 531.9 396.5 531.5 398.0 531.2 399.5 530.8 401.0 530.5 402.4 530.1 403.9 529.8 405.4 529.4 406.9 529.1 408.3 528.7 409.8 528.3 411.3 528.0 412.8 527.6 414.2 527.3 415.7 526.9 417.2 526.6 418.7 526.2 420.1 525.8 421.6 525.5 423.0 525.1 424.5 524.7 426.0 524.4 427.4 524.0 428.9 523.6 430.4 523.2 431.8 522.9 433.3 522.5 434.7 522.1 436.2 521.7 437.6 521.3 439.1 520.9 440.5 520.6 442.0 520.2 443.4 519.8 444.9 519.4 446.3 519.0 447.8 518.6 449.2 518.2 450.7 517.8 452.1 517.4 453.6 517.0 455.0 516.6 456.4 516.2 457.9 515.8 459.3 515.4 460.8 515.0 462.2 514.6 463.6 514.2 465.1 513.8 466.5 513.3 467.9 512.9 469.4 512.5 470.8 512.1 472.2 511.7 473.7 511.3 475.1 510.8 476.5 510.4 478.0 510.0 479.4 509.6 480.8 509.2 482.3 508.7 483.7 508.3 485.1 507.9 486.5 507.4 488.0 507.0 489.4 506.6 490.8 506.2 492.2 505.7 493.7 505.3 495.1 504.9 496.5 504.4 497.9 504.0 499.4 503.5 500.8 503.1 502.2 502.7 503.6 502.2 505.1 501.8 506.5 501.3 507.9 500.9 509.3 500.5 510.7 500.0 512.2 499.6 513.6 499.1 515.0 498.7 516.4 498.2 517.9 497.8 519.3 497.4 520.7 496.9 522.1 496.5 523.5 496.0 525.0 495.6 526.4 495.1 527.8 494.7 529.2 494.2 530.6 493.8 532.1 493.3 533.5 492.9 534.9 492.4 536.3 492.0 537.8 491.5 539.2 491.0 540.6 490.6 542.0 490.1 543.4 489.7 544.9 489.2 546.3 488.8 547.7 488.3 549.1 487.9 550.6 487.4 552.0 487.0 553.4 486.5 554.8 486.0 556.3 485.6 557.7 485.1 559.1 484.7 560.5 484.2 562.0 483.8 563.4 483.3 564.8 482.9 566.2 482.4 567.7 481.9 569.1 481.5 570.5 481.0 572.0 480.6 573.4 480.1 574.8 479.6 576.2 479.2 577.7 478.7 579.1 478.3 580.5 477.8 582.0 477.3 583.4 476.9 584.8 476.4 586.2 476.0 587.7 475.5 589.1 475.0 590.5 474.6 592.0 474.1 593.4 473.6 594.8 473.2 596.3 472.7 597.7 472.2 599.1 471.8 600.5 471.3 602.0 470.8 603.4 470.4 604.8 469.9 606.3 469.4 607.7 468.9 609.1 468.5 610.5 468.0 612.0 467.5 613.4 467.0 614.8 466.6 616.3 466.1 617.7 465.6 619.1 465.1 620.5 464.7 622.0 464.2 623.4 463.7 624.8 463.2 626.3 462.7 627.7 462.2 629.1 461.8 630.5 461.3 632.0 460.8 633.4 460.3 634.8 459.8 636.2 459.3 637.7 458.8 639.1 458.3 640.5 457.8 641.9 457.3 643.4 456.8 644.8 456.3 646.2 455.9 647.6 455.4 649.0 454.9 650.5 454.3 651.9 453.8 653.3 453.3 654.7 452.8 656.1 452.3 657.6 451.8 659.0 451.3 660.4 450.8 661.8 450.3 663.2 449.8 664.6 449.3 666.1 448.7 667.5 448.2 668.9 447.7 670.3 447.2 671.7 446.7 673.1 446.1 674.5 445.6 676.0 445.1 677.4 444.6 678.8 444.0 680.2 443.5 681.6 443.0 683.0 442.4 684.4 441.9 685.8 441.4 687.2 440.8 688.6 440.3 690.0 439.7 691.4 439.2 692.8 438.6 694.2 438.1 695.6 437.5 697.0 437.0 698.4 436.4 699.8 435.9 701.2 435.3 702.6 434.8 704.0 434.2 705.4 433.7 706.8 433.1 708.2 432.5 709.6 432.0 711.0 431.4 712.4 430.8 713.8 430.2 715.2 429.7 716.5 429.1 717.9 428.5 719.3 427.9 720.7 427.3 722.1 426.8 723.5 426.2 724.8 425.6 726.2 425.0 727.6 424.4 729.0 423.8 730.4 423.2 731.7 422.6 733.1 422.0 734.5 421.4 735.9 420.8 737.2 420.2 738.6 419.6 740.0 419.0 741.3 418.4 742.7 417.7 744.1 417.1 745.4 416.5 746.8 415.9 748.1 415.2 749.5 414.6 750.9 414.0 752.2 413.3 753.6 412.7 754.9 412.1 756.3 411.4 757.6 410.8 759.0 410.1 760.3 409.5 761.7 408.8 763.0 408.2 764.4 407.5 765.7 406.9 767.1 406.2 768.4 405.6 769.7 404.9 771.1 404.2 772.4 403.5 773.8 402.9 775.1 402.2 776.4 401.5 777.7 400.8 779.1 400.2 780.4 399.5 781.7 398.8 783.1 398.1 784.4 397.4 785.7 396.7 787.0 396.0 788.3 395.3 789.7 394.6 791.0 393.9 792.3 393.2 793.6 392.4 794.9 391.7 796.2 391.0 797.5 390.3 798.8 389.6 800.1 388.8 801.4 388.1 802.7 387.4 804.0 386.6 805.3 385.9 806.6 385.1 807.9 384.4 809.2 383.6 810.5 382.9 811.8 382.1 813.1 381.4 814.3 380.6 815.6 379.8 816.9 379.1 818.2 378.3 819.4 377.5 820.7 376.7 822.0 376.0 823.3 375.2 824.5 374.4 825.8 373.6 827.1 372.8 828.3 372.0 829.6 371.2 830.9 370.4 832.1 369.6 833.4 368.8 834.6 368.0 835.9 367.2 837.1 366.4 838.4 365.5 839.6 364.7 840.9 363.9 842.1 363.1 843.4 362.2 844.6 361.4 845.8 360.6 847.1 359.7 848.3 358.9 849.6 358.1 850.8 357.2 852.0 356.4 853.3 355.5 854.5 354.7 855.7 353.8 856.9 353.0 858.2 352.1 859.4 351.2 860.6 350.4 861.8 349.5 863.0 348.6 864.3 347.8 865.5 346.9 866.7 346.0 867.9 345.1 869.1 344.3 870.3 343.4 871.5 342.5 872.7 341.6 873.9 340.7 875.1 339.8 876.3 338.9 877.5 338.0 878.7 337.1 879.9 336.2 881.1 335.3 882.3 334.4 883.5 333.5 884.7 332.6 885.9 331.7 887.1 330.8 888.3 329.9 889.5 329.0 890.6 328.0 891.8 327.1 893.0 326.2 894.2 325.3 895.4 324.3 896.5 323.4 897.7 322.5 898.9 321.5 900.1 320.6 901.2 319.7 902.4 318.7 903.6 317.8 904.7 316.9 905.9 315.9 907.1 315.0 908.2 314.0 909.4 313.1 910.6 312.1 911.7 311.2 912.9 310.2 914.0 309.2 915.2 308.3 916.4 307.3 917.5 306.4 918.7 305.4 919.8 304.4 921.0 303.5 922.1 302.5 923.3 301.5 924.4 300.6 925.5 299.6 926.7 298.6 927.8 297.6 929.0 296.7 930.1 295.7 931.3 294.7 932.4 293.7 933.5 292.7 934.7 291.8 935.8 290.8 936.9 289.8 938.1 288.8 939.2 287.8 940.3 286.8 941.5 285.8 942.6 284.8 943.7 283.8 944.8 282.8 946.0 281.8 947.1 280.8 948.2 279.8 949.3 278.8 950.4 277.8 951.6 276.8 952.7 275.8 953.8 274.8 954.9 273.8 956.0 272.8 957.1 271.8 958.3 270.8 959.4 269.8 960.5 268.8 961.6 267.7 962.7 266.7 963.8 265.7 964.9 264.7 966.0 263.7 967.1 262.7 968.2 261.6 969.3 260.6 970.4 259.6 971.5 258.6 972.6 257.6 973.7 256.5 974.8 255.5 975.9 254.5 977.0 253.5 978.1 252.4 979.2 251.4 980.3 250.4 981.4 249.3 982.5 248.3 983.6 247.3 984.7 246.3 985.8 245.2 986.9 244.2 987.9 243.2 989.0 242.1 990.1 241.1 991.2 240.1 992.3 239.0 993.4 238.0 994.5 236.9 995.5 235.9 996.6 234.9 997.7 233.8 998.8 232.8 999.9 231.8 1000.9 230.7 1002.0 229.7 1003.1 228.6 1004.2 227.6 1005.2 226.6 1006.3 225.5 1007.4 224.5 1008.5 223.4 1009.5 222.4 1010.6 221.3 1011.7 220.3 1012.7 219.3 1013.8 218.2 1014.9 217.2 1015.9 216.1 1017.0 215.1 1018.1 214.1 1019.2 213.0 1020.2 212.0 1021.3 211.0 1022.4 209.9 1023.5 208.9 1024.5 207.9 1025.6 206.8 1026.7 205.8 1027.8 204.8 1028.9 203.8 1030.0 202.8 1031.1 201.8 1032.2 200.8 1033.3 199.8 1034.4 198.8 1035.5 197.8 1036.6 196.8 1037.7 195.9 1038.9 194.9 1040.0 193.9 1041.1 193.0 1042.3 192.0 1043.4 191.1 1044.6 190.2 1045.8 189.2 1046.9 188.3 1048.1 187.4 1049.3 186.5 1050.5 185.6 1051.7 184.7 1052.9 183.8 1054.1 183.0 1055.3 182.1 1056.5 181.3 1057.8 180.4 1059.0 179.6 1060.3 178.8 1061.5 178.0 1062.8 177.2 1064.1 176.4 1065.4 175.7 1066.7 174.9 1068.0 174.1 1069.3 173.4 1070.6 172.7 1072.0 172.0 1073.3 171.2 1074.7 170.5 1076.0 169.9 1077.4 169.2 1078.7 168.5 1080.1 167.9 1081.5 167.2 1082.9 166.6 1084.3 166.0 1085.6 165.3 1087.0 164.7 1088.4 164.2 1089.9 163.6 1091.3 163.0 1092.7 162.4 1094.1 161.9 1095.5 161.3 1097.0 160.8 1098.4 160.3 1099.8 159.8 1101.3 159.3 1102.7 158.8 1104.1 158.3 1105.6 157.8 1107.0 157.4 1108.5 156.9 1109.9 156.5 1111.4 156.1 1112.8 155.6 1114.3 155.2 1115.7 154.8 1117.2 154.4 1118.6 154.1 1120.1 153.7 1121.5 153.3 1123.0 153.0 1124.5 152.6 1125.9 152.3 1127.4 152.0 1128.8 151.7 1130.3 151.3 1131.8 151.0 1133.2 150.7 1134.7 150.5 1136.2 150.2 1137.6 149.9 1139.1 149.7 1140.6 149.4 1142.1 149.2 1143.5 148.9 1145.0 148.7 1146.5 148.5 1148.0 148.2 1149.4 148.0 1150.9 147.8 1152.4 147.6 1153.9 147.4 1155.4 147.2 1156.8 147.1 1158.3 146.9 1159.8 146.7 1161.3 146.6 1162.8 146.4 1164.3 146.3 1165.7 146.1 1167.2 146.0 1168.7 145.8 1170.2 145.7 1171.7 145.6 1173.2 145.5 1174.7 145.4 1176.2 145.2 1177.6 145.1 1179.1 145.0 1180.6 144.9 1182.1 144.8 1183.6 144.8 1185.1 144.7 1186.6 144.6 1188.1 144.5 1189.6 144.4 1191.1 144.4 1192.6 144.3 1194.1 144.2 1195.6 144.2 1197.1 144.1 1198.6 144.1 1200.1 144.0 1201.6 144.0 1203.1 143.9 1204.6 143.9 1206.1 143.8 1207.6 143.8 1209.1 143.7 1210.6 143.7 1212.0 143.7 1213.5 143.6 1215.0 143.6 1216.5 143.6 1218.0 143.5 1219.5 143.5 1221.0 143.5 1222.5 143.5 1224.0 143.4 1225.5 143.4 1227.0 143.4 1228.5 143.3 1230.0 143.3 1231.5 143.3 1233.0 143.3 1234.5 143.2 1236.0 143.2 1237.5 143.2 1239.0 143.2 1240.5 143.2 1242.0 143.1 1243.5 143.1 1245.0 143.1 1246.5 143.1 1248.0 143.0 1249.5 143.0 1251.0 143.0 1252.5 143.0 1254.0 143.0 1255.5 142.9 1257.0 142.9 1258.5 142.9 1260.0 142.9 1261.5 142.9 1263.0 142.9 1264.5 142.8 1266.0 142.8 1267.5 142.8 1269.0 142.8 1270.5 142.8 1272.0 142.8 1273.5 142.7 1275.0 142.7 1276.5 142.7 1278.0 142.7 1279.5 142.7 1281.0 142.7 1282.5 142.7 1284.0 142.7 1285.5 142.6 1287.0 142.6 1288.5 142.6 1290.0 142.6 1291.5 142.6 1293.0 142.6 1294.5 142.6 1296.0 142.6 1297.5 142.6 1299.0 142.6 1300.5 142.5 1302.0 142.5 1303.5 142.5 1305.0 142.5 1306.5 142.5 1308.0 142.5 1309.5 142.5 1311.0 142.5 1312.5 142.5 1314.0 142.5 1315.5 142.5 1317.0 142.5 1318.5 142.5 1320.0 142.5 1321.5 142.5 1323.0 142.4 1324.5 142.4 1326.0 142.4 1327.5 142.4 1329.0 142.4 1330.5 142.4 1332.0 142.4 1333.5 142.4 1335.0 142.4 1336.5 142.4 1338.0 142.4 1339.5 142.4 1341.0 142.4 1342.5 142.4 1344.0 142.4 1345.5 142.4 1347.0 142.4 1348.5 142.4 1350.0 142.4 1351.5 142.4 1353.0 142.4 1354.5 142.4 1356.0 142.4 1357.5 142.4 1359.0 142.4 1360.5 142.4 1362.0 142.4 1363.5 142.4 1365.0 142.4 1366.5 142.4 1368.0 142.4 1369.5 142.4 1371.0 142.4 1372.5 142.4 1374.0 142.4 1375.5 142.4 1377.0 142.4 1378.5 142.4 1380.0 142.4 1381.5 142.4 1383.0 142.4 1384.5 142.4 1386.0 142.4 1387.5 142.5 1389.0 142.5 1390.5 142.5 1392.0 142.5 1393.5 142.5 1395.0 142.5 1396.5 142.5 1398.0 142.5 1399.5 142.5 1401.0 142.5 1402.5 142.5 1404.0 142.5 1405.5 142.5 1407.0 142.5 1408.5 142.5 1410.0 142.5 1411.5 142.5 1413.0 142.5 1414.5 142.5 1416.0 142.5 1417.5 142.5 1419.0 142.5 1420.5 142.6 1422.0 142.6 1423.5 142.6 1425.0 142.6 1426.5 142.6 1428.0 142.6 1429.5 142.6 1431.0 142.6 1432.5 142.6 1434.0 142.6 1435.5 142.6 1437.0 142.6 1438.5 142.6 1440.0 142.6 1441.5 142.6 1443.0 142.6 1444.5 142.6 1446.0 142.6 1447.5 142.7 1449.0 142.7 1450.5 142.7 1452.0 142.7 1453.5 142.7 1455.0 142.7 1456.5 142.7 1458.0 142.7 1459.5 142.7 1461.0 142.7 1462.5 142.7 1464.0 142.7 1465.5 142.7 1467.0 142.7 1468.5 142.7 1470.0 142.7 1471.5 142.7 1473.0 142.7 1474.5 142.8 1476.0 142.8 1477.5 142.8 1479.0 142.8 1480.5 142.8 1482.0 142.8 1483.5 142.8 1485.0 142.8 1486.5 142.8 1488.0 142.8 1489.5 142.8 1491.0 142.8 1492.5 142.8 1494.0 142.8 1495.5 142.8 1497.0 142.8 1498.5 142.8 1500.0 142.8 1501.5 142.8 1503.0 142.8 1504.5 142.8 1506.0 142.8 1507.5 142.9 1509.0 142.9 1510.5 142.9 1512.0 142.9 1513.5 142.9 1515.0 142.9 1516.5 142.9 1518.0 142.9 1519.5 142.9 1521.0 142.9 1522.5 142.9 1524.0 142.9 1525.5 142.9 1527.0 142.9 1528.5 142.9 1530.0 142.9 1531.5 142.9 1533.0 142.9 1534.5 142.9 1536.0 142.9 1537.5 142.9 1539.0 142.9 1540.5 142.9 1542.0 142.9 1543.5 142.9 1545.0 142.9 1546.5 142.9 1548.0 142.9 1549.5 142.9 1551.0 142.9 1552.5 142.9 1554.0 142.9 1555.5 142.9 1557.0 142.9 1558.5 142.9 1560.0 142.9 1561.5 142.9 1563.0 142.9 1564.5 142.9 1566.0 142.9 1567.5 142.9 1569.0 142.9 1570.5 142.9 1572.0 142.9 1573.5 142.9 1575.0 142.9 1576.5 142.9 1578.0 142.9 1579.5 142.9 1581.0 142.9 1582.5 142.9 1584.0 142.9 1585.5 142.9 1587.0 142.9 1588.5 142.9 1590.0 142.8 1591.5 142.8 1593.0 142.8 1594.5 142.8 1596.0 142.8 1597.5 142.8 1599.0 142.8 1600.5 142.8 1602.0 142.8 1603.5 142.8 1605.0 142.8 1606.5 142.8 1608.0 142.8 1609.5 142.8 1611.0 142.8 1612.5 142.8 1614.0 142.8 1615.5 142.8 1617.0 142.8 1618.5 142.8 1620.0 142.8 1621.5 142.8 1623.0 142.8 1624.5 142.8 1626.0 142.8 1627.5 142.8 1629.0 142.8 1630.5 142.8 1632.0 142.8 1633.5 142.8 1635.0 142.7 1636.5 142.7 1638.0 142.7 1639.5 142.7 1641.0 142.7 1642.5 142.7 1644.0 142.7 1645.5 142.7 1647.0 142.7 1648.5 142.7 1650.0 142.7 1651.5 142.7 1653.0 142.7 1654.5 142.7 1656.0 142.7 1657.5 142.7 1659.0 142.7 1660.5 142.7 1662.0 142.7 1663.5 142.7 1665.0 142.7 1666.5 142.7 1668.0 142.7 1669.5 142.7 1671.0 142.7 1672.5 142.7 1674.0 142.7 1675.5 142.6 1677.0 142.6 1678.5 142.6 1680.0 142.6 1681.5 142.6 1683.0 142.6 1684.5 142.6 1686.0 142.6 1687.5 142.6 1689.0 142.6 1690.5 142.6 1692.0 142.6 1693.5 142.6 1695.0 142.6 1696.5 142.6 1698.0 142.6 1699.5 142.6 1701.0 142.6 1702.5 142.6 1704.0 142.6 1705.5 142.6 1707.0 142.6 1708.5 142.6 1710.0 142.6 1711.5 142.6 1713.0 142.6 1714.5 142.6 1716.0 142.6 1717.5 142.6 1719.0 142.6 1720.5 142.6 1722.0 142.6 1723.5 142.6 1725.0 142.6 1726.5 142.6 1728.0 142.6 1729.5 142.6 1731.0 142.6 1732.5 142.6 1734.0 142.6 1735.5 142.6 1737.0 142.6 1738.5 142.6 1740.0 142.6 1741.5 142.6 1743.0 142.6 1744.5 142.6 1746.0 142.6 1747.5 142.6 1749.0 142.6 1750.5 142.6 1752.0 142.6 1753.5 142.6 1755.0 142.6 1756.5 142.6 1758.0 142.6 1759.5 142.6 1761.0 142.6 1762.5 142.6 1764.0 142.6 1765.5 142.6 1767.0 142.6 1768.5 142.6 1770.0 142.6 1771.5 142.6 1773.0 142.6 1774.5 142.6 1776.0 142.6 1777.5 142.6 1779.0 142.6 1780.5 142.6 1782.0 142.6 1783.5 142.6 1785.0 142.6 1786.5 142.6 1788.0 142.6 1789.5 142.6 1791.0 142.6 1792.5 142.6 1794.0 142.6 1795.5 142.6 1797.0 142.6 1798.5 142.6 1800.0 142.6 1801.5 142.6 1803.0 142.7 1804.5 142.7 1806.0 142.7 1807.5 142.7 1809.0 142.7 1810.5 142.7 1812.0 142.7 1813.5 142.7 1815.0 142.7" stroke="#0000ff" stroke-width="4.8" stroke-linecap="round"/>
<path d="M246.2 1121.0L246.3 1119.5 246.4 1118.0 246.6 1116.5 246.7 1115.0 246.8 1113.5 246.9 1112.0 247.0 1110.6 247.2 1109.1 247.3 1107.6 247.4 1106.1 247.5 1104.6 247.6 1103.1 247.7 1101.6 247.9 1100.1 248.0 1098.6 248.1 1097.1 248.2 1095.6 248.3 1094.1 248.4 1092.6 248.5 1091.1 248.6 1089.7 248.7 1088.2 248.9 1086.7 249.0 1085.2 249.1 1083.7 249.2 1082.2 249.3 1080.7 249.4 1079.2 249.5 1077.7 249.6 1076.2 249.7 1074.7 249.8 1073.2 249.9 1071.7 250.0 1070.2 250.1 1068.7 250.2 1067.2 250.3 1065.7 250.4 1064.2 250.5 1062.8 250.6 1061.3 250.7 1059.8 250.8 1058.3 250.9 1056.8 251.0 1055.3 251.1 1053.8 251.2 1052.3 251.3 1050.8 251.4 1049.3 251.5 1047.8 251.6 1046.3 251.7 1044.8 251.8 1043.3 251.9 1041.8 252.0 1040.3 252.1 1038.8 252.2 1037.3 252.3 1035.8 252.4 1034.3 252.5 1032.8 252.6 1031.3 252.7 1029.8 252.8 1028.3 252.9 1026.8 253.0 1025.3 253.1 1023.8 253.1 1022.3 253.2 1020.8 253.3 1019.4 253.4 1017.9 253.5 1016.4 253.6 1014.9 253.7 1013.4 253.8 1011.9 253.9 1010.4 254.0 1008.9 254.1 1007.4 254.2 1005.9 254.3 1004.4 254.4 1002.9 254.5 1001.4 254.5 999.9 254.6 998.4 254.7 996.9 254.8 995.4 254.9 993.9 255.0 992.4 255.1 990.9 255.2 989.4 255.3 987.9 255.4 986.4 255.5 984.9 255.6 983.4 255.7 981.9 255.7 980.4 255.8 978.9 255.9 977.4 256.0 975.9 256.1 974.4 256.2 972.9 256.3 971.4 256.4 969.9 256.5 968.4 256.6 966.9 256.7 965.4 256.8 963.9 256.9 962.4 257.0 960.9 257.1 959.4 257.2 957.9 257.2 956.4 257.3 955.0 257.4 953.5 257.5 952.0 257.6 950.5 257.7 949.0 257.8 947.5 257.9 946.0 258.0 944.5 258.1 943.0 258.2 941.5 258.3 940.0 258.4 938.5 258.5 937.0 258.6 935.5 258.7 934.0 258.8 932.5 258.9 931.0 259.0 929.5 259.1 928.0 259.2 926.5 259.3 925.0 259.4 923.5 259.5 922.0 259.6 920.5 259.7 919.0 259.8 917.5 259.9 916.0 260.0 914.5 260.1 913.0 260.2 911.5 260.3 910.0 260.5 908.6 260.6 907.1 260.7 905.6 260.8 904.1 260.9 902.6 261.0 901.1 261.1 899.6 261.2 898.1 261.3 896.6 261.4 895.1 261.5 893.6 261.7 892.1 261.8 890.6 261.9 889.1 262.0 887.6 262.1 886.1 262.2 884.6 262.3 883.1 262.5 881.6 262.6 880.1 262.7 878.7 262.8 877.2 262.9 875.7 263.1 874.2 263.2 872.7 263.3 871.2 263.4 869.7 263.5 868.2 263.7 866.7 263.8 865.2 263.9 863.7 264.0 862.2 264.2 860.7 264.3 859.2 264.4 857.8 264.6 856.3 264.7 854.8 264.8 853.3 264.9 851.8 265.1 850.3 265.2 848.8 265.3 847.3 265.5 845.8 265.6 844.3 265.8 842.8 265.9 841.3 266.0 839.9 266.2 838.4 266.3 836.9 266.5 835.4 266.6 833.9 266.7 832.4 266.9 830.9 267.0 829.4 267.2 827.9 267.3 826.4 267.5 825.0 267.6 823.5 267.8 822.0 267.9 820.5 268.1 819.0 268.2 817.5 268.4 816.0 268.5 814.5 268.7 813.1 268.8 811.6 269.0 810.1 269.2 808.6 269.3 807.1 269.5 805.6 269.6 804.1 269.8 802.6 270.0 801.2 270.1 799.7 270.3 798.2 270.4 796.7 270.6 795.2 270.8 793.7 270.9 792.2 271.1 790.7 271.3 789.3 271.5 787.8 271.6 786.3 271.8 784.8 272.0 783.3 272.1 781.8 272.3 780.3 272.5 778.9 272.7 777.4 272.9 775.9 273.0 774.4 273.2 772.9 273.4 771.4 273.6 769.9 273.8 768.5 273.9 767.0 274.1 765.5 274.3 764.0 274.5 762.5 274.7 761.0 274.9 759.6 275.1 758.1 275.2 756.6 275.4 755.1 275.6 753.6 275.8 752.1 276.0 750.6 276.2 749.2 276.4 747.7 276.6 746.2 276.8 744.7 277.0 743.2 277.2 741.7 277.4 740.3 277.6 738.8 277.8 737.3 278.0 735.8 278.2 734.3 278.4 732.8 278.6 731.4 278.8 729.9 279.0 728.4 279.2 726.9 279.4 725.4 279.6 723.9 279.8 722.5 280.1 721.0 280.3 719.5 280.5 718.0 280.7 716.5 280.9 715.0 281.1 713.5 281.3 712.1 281.6 710.6 281.8 709.1 282.0 707.6 282.2 706.1 282.4 704.6 282.7 703.2 282.9 701.7 283.1 700.2 283.3 698.7 283.5 697.2 283.8 695.7 284.0 694.3 284.2 692.8 284.5 691.3 284.7 689.8 284.9 688.3 285.1 686.8 285.4 685.4 285.6 683.9 285.8 682.4 286.1 680.9 286.3 679.4 286.6 677.9 286.8 676.4 287.0 675.0 287.3 673.5 287.5 672.0 287.8 670.5 288.0 669.0 288.3 667.5 288.6 666.0 288.8 664.5 289.1 663.1 289.3 661.6 289.6 660.1 289.9 658.6 290.2 657.1 290.4 655.6 290.7 654.1 291.0 652.6 291.3 651.1 291.6 649.6 291.9 648.1 292.2 646.6 292.5 645.1 292.8 643.6 293.2 642.1 293.5 640.6 293.8 639.1 294.2 637.6 294.5 636.1 294.8 634.6 295.2 633.1 295.6 631.6 295.9 630.1 296.3 628.6 296.7 627.1 297.1 625.6 297.5 624.2 297.9 622.7 298.3 621.2 298.8 619.7 299.2 618.3 299.7 616.8 300.1 615.4 300.6 614.0 301.1 612.5 301.6 611.1 302.1 609.7 302.7 608.3 303.2 606.9 303.8 605.6 304.4 604.2 305.0 602.9 305.6 601.5 306.2 600.2 306.9 598.9 307.6 597.7 308.3 596.4 309.0 595.1 309.7 593.9 310.5 592.7 311.2 591.5 312.0 590.3 312.9 589.2 313.7 588.0 314.6 586.9 315.4 585.8 316.3 584.8 317.3 583.7 318.2 582.7 319.2 581.7 320.2 580.7 321.2 579.7 322.2 578.8 323.3 577.9 324.3 577.0 325.4 576.1 326.5 575.2 327.7 574.4 328.8 573.5 330.0 572.7 331.2 572.0 332.4 571.2 333.6 570.5 334.8 569.7 336.1 569.0 337.3 568.3 338.6 567.7 339.9 567.0 341.2 566.4 342.5 565.8 343.9 565.2 345.2 564.6 346.6 564.1 348.0 563.5 349.3 563.0 350.7 562.5 352.1 561.9 353.6 561.5 355.0 561.0 356.4 560.5 357.8 560.0 359.3 559.6 360.7 559.1 362.2 558.7 363.6 558.2 365.1 557.8 366.5 557.4 368.0 557.0 369.5 556.6 370.9 556.2 372.4 555.8 373.9 555.4 375.3 555.0 376.8 554.6 378.3 554.2 379.7 553.8 381.2 553.4 382.7 553.0 384.1 552.6 385.6 552.3 387.1 551.9 388.5 551.5 390.0 551.1 391.5 550.8 392.9 550.4 394.4 550.0 395.9 549.7 397.4 549.3 398.8 548.9 400.3 548.6 401.8 548.2 403.2 547.9 404.7 547.5 406.2 547.1 407.7 546.8 409.1 546.4 410.6 546.1 412.1 545.7 413.5 545.4 415.0 545.0 416.5 544.6 417.9 544.3 419.4 543.9 420.9 543.6 422.3 543.2 423.8 542.8 425.3 542.5 426.7 542.1 428.2 541.8 429.7 541.4 431.1 541.0 432.6 540.7 434.0 540.3 435.5 539.9 437.0 539.6 438.4 539.2 439.9 538.8 441.3 538.4 442.8 538.1 444.3 537.7 445.7 537.3 447.2 536.9 448.6 536.5 450.1 536.1 451.5 535.7 453.0 535.4 454.4 535.0 455.9 534.6 457.3 534.2 458.8 533.8 460.2 533.4 461.7 533.0 463.1 532.6 464.5 532.2 466.0 531.8 467.4 531.4 468.9 531.0 470.3 530.6 471.8 530.1 473.2 529.7 474.6 529.3 476.1 528.9 477.5 528.5 479.0 528.1 480.4 527.7 481.8 527.2 483.3 526.8 484.7 526.4 486.1 526.0 487.6 525.5 489.0 525.1 490.4 524.7 491.9 524.3 493.3 523.8 494.7 523.4 496.2 523.0 497.6 522.5 499.0 522.1 500.5 521.7 501.9 521.2 503.3 520.8 504.8 520.4 506.2 519.9 507.6 519.5 509.0 519.0 510.5 518.6 511.9 518.1 513.3 517.7 514.8 517.3 516.2 516.8 517.6 516.4 519.0 515.9 520.5 515.5 521.9 515.0 523.3 514.6 524.7 514.1 526.2 513.6 527.6 513.2 529.0 512.7 530.4 512.3 531.8 511.8 533.3 511.4 534.7 510.9 536.1 510.4 537.5 510.0 539.0 509.5 540.4 509.0 541.8 508.6 543.2 508.1 544.6 507.7 546.1 507.2 547.5 506.7 548.9 506.2 550.3 505.8 551.7 505.3 553.2 504.8 554.6 504.4 556.0 503.9 557.4 503.4 558.8 503.0 560.3 502.5 561.7 502.0 563.1 501.5 564.5 501.1 565.9 500.6 567.3 500.1 568.8 499.6 570.2 499.1 571.6 498.7 573.0 498.2 574.4 497.7 575.9 497.2 577.3 496.7 578.7 496.3 580.1 495.8 581.5 495.3 582.9 494.8 584.4 494.3 585.8 493.8 587.2 493.4 588.6 492.9 590.0 492.4 591.5 491.9 592.9 491.4 594.3 490.9 595.7 490.4 597.1 489.9 598.5 489.5 600.0 489.0 601.4 488.5 602.8 488.0 604.2 487.5 605.6 487.0 607.0 486.5 608.4 486.0 609.9 485.5 611.3 485.0 612.7 484.5 614.1 484.0 615.5 483.5 616.9 483.0 618.3 482.5 619.8 482.0 621.2 481.5 622.6 481.0 624.0 480.5 625.4 480.0 626.8 479.5 628.2 479.0 629.7 478.5 631.1 477.9 632.5 477.4 633.9 476.9 635.3 476.4 636.7 475.9 638.1 475.4 639.5 474.9 640.9 474.4 642.3 473.8 643.8 473.3 645.2 472.8 646.6 472.3 648.0 471.8 649.4 471.3 650.8 470.7 652.2 470.2 653.6 469.7 655.0 469.2 656.4 468.6 657.8 468.1 659.2 467.6 660.6 467.1 662.0 466.5 663.5 466.0 664.9 465.5 666.3 464.9 667.7 464.4 669.1 463.9 670.5 463.3 671.9 462.8 673.3 462.3 674.7 461.7 676.1 461.2 677.5 460.6 678.9 460.1 680.3 459.6 681.7 459.0 683.1 458.5 684.5 457.9 685.9 457.4 687.3 456.8 688.7 456.3 690.1 455.7 691.5 455.2 692.9 454.6 694.2 454.1 695.6 453.5 697.0 453.0 698.4 452.4 699.8 451.9 701.2 451.3 702.6 450.8 704.0 450.2 705.4 449.6 706.8 449.1 708.2 448.5 709.6 447.9 711.0 447.4 712.3 446.8 713.7 446.2 715.1 445.7 716.5 445.1 717.9 444.5 719.3 444.0 720.7 443.4 722.1 442.8 723.4 442.2 724.8 441.6 726.2 441.1 727.6 440.5 729.0 439.9 730.4 439.3 731.7 438.7 733.1 438.2 734.5 437.6 735.9 437.0 737.3 436.4 738.6 435.8 740.0 435.2 741.4 434.6 742.8 434.0 744.1 433.4 745.5 432.8 746.9 432.2 748.3 431.6 749.6 431.0 751.0 430.4 752.4 429.8 753.7 429.2 755.1 428.6 756.5 428.0 757.9 427.4 759.2 426.8 760.6 426.2 762.0 425.6 763.3 425.0 764.7 424.3 766.1 423.7 767.4 423.1 768.8 422.5 770.1 421.9 771.5 421.2 772.9 420.6 774.2 420.0 775.6 419.4 776.9 418.7 778.3 418.1 779.7 417.5 781.0 416.8 782.4 416.2 783.7 415.6 785.1 414.9 786.4 414.3 787.8 413.7 789.1 413.0 790.5 412.4 791.8 411.7 793.2 411.1 794.5 410.4 795.9 409.8 797.2 409.1 798.6 408.5 799.9 407.8 801.3 407.2 802.6 406.5 804.0 405.9 805.3 405.2 806.6 404.5 808.0 403.9 809.3 403.2 810.7 402.5 812.0 401.9 813.3 401.2 814.7 400.5 816.0 399.9 817.3 399.2 818.7 398.5 820.0 397.8 821.3 397.2 822.7 396.5 824.0 395.8 825.3 395.1 826.7 394.4 828.0 393.7 829.3 393.0 830.6 392.4 832.0 391.7 833.3 391.0 834.6 390.3 835.9 389.6 837.2 388.8 838.5 388.1 839.9 387.4 841.2 386.7 842.5 386.0 843.8 385.3 845.1 384.5 846.4 383.8 847.7 383.1 849.0 382.3 850.3 381.6 851.6 380.8 852.9 380.1 854.2 379.3 855.5 378.6 856.7 377.8 858.0 377.0 859.3 376.3 860.6 375.5 861.9 374.7 863.1 373.9 864.4 373.1 865.7 372.3 866.9 371.5 868.2 370.7 869.4 369.9 870.7 369.1 871.9 368.2 873.2 367.4 874.4 366.6 875.7 365.7 876.9 364.9 878.1 364.0 879.4 363.2 880.6 362.3 881.8 361.4 883.0 360.5 884.2 359.6 885.4 358.7 886.6 357.8 887.9 356.9 889.1 356.0 890.2 355.1 891.4 354.1 892.6 353.2 893.8 352.3 895.0 351.3 896.2 350.4 897.4 349.4 898.5 348.5 899.7 347.5 900.9 346.6 902.0 345.6 903.2 344.6 904.4 343.6 905.5 342.7 906.7 341.7 907.8 340.7 909.0 339.7 910.1 338.7 911.3 337.7 912.4 336.7 913.5 335.8 914.7 334.8 915.8 333.8 916.9 332.8 918.1 331.8 919.2 330.8 920.3 329.8 921.4 328.8 922.6 327.8 923.7 326.8 924.8 325.8 925.9 324.8 927.0 323.7 928.1 322.7 929.3 321.7 930.4 320.7 931.5 319.7 932.6 318.7 933.7 317.7 934.8 316.7 935.9 315.7 937.0 314.7 938.1 313.7 939.2 312.7 940.3 311.7 941.4 310.7 942.5 309.7 943.6 308.7 944.7 307.7 945.7 306.7 946.8 305.7 947.9 304.7 949.0 303.7 950.1 302.6 951.2 301.6 952.3 300.6 953.3 299.6 954.4 298.6 955.5 297.6 956.6 296.6 957.7 295.6 958.7 294.6 959.8 293.6 960.9 292.5 962.0 291.5 963.1 290.5 964.1 289.5 965.2 288.5 966.3 287.5 967.3 286.5 968.4 285.4 969.5 284.4 970.6 283.4 971.6 282.4 972.7 281.4 973.8 280.3 974.8 279.3 975.9 278.3 977.0 277.3 978.1 276.2 979.1 275.2 980.2 274.2 981.3 273.2 982.3 272.1 983.4 271.1 984.5 270.1 985.5 269.0 986.6 268.0 987.7 267.0 988.8 265.9 989.8 264.9 990.9 263.9 992.0 262.8 993.0 261.8 994.1 260.8 995.2 259.7 996.3 258.7 997.3 257.6 998.4 256.6 999.5 255.6 1000.5 254.5 1001.6 253.5 1002.7 252.4 1003.8 251.4 1004.9 250.3 1005.9 249.3 1007.0 248.2 1008.1 247.1 1009.2 246.1 1010.2 245.0 1011.3 244.0 1012.4 242.9 1013.5 241.9 1014.6 240.8 1015.7 239.7 1016.7 238.7 1017.8 237.6 1018.9 236.5 1020.0 235.5 1021.1 234.4 1022.2 233.3 1023.3 232.3 1024.4 231.2 1025.5 230.1 1026.6 229.1 1027.7 228.0 1028.8 227.0 1029.9 225.9 1031.0 224.8 1032.1 223.8 1033.2 222.7 1034.3 221.7 1035.4 220.6 1036.5 219.6 1037.7 218.5 1038.8 217.5 1039.9 216.4 1041.0 215.4 1042.1 214.3 1043.3 213.3 1044.4 212.3 1045.5 211.2 1046.7 210.2 1047.8 209.2 1048.9 208.2 1050.1 207.2 1051.2 206.2 1052.4 205.2 1053.5 204.2 1054.7 203.2 1055.8 202.2 1057.0 201.2 1058.2 200.2 1059.3 199.3 1060.5 198.3 1061.7 197.3 1062.8 196.4 1064.0 195.4 1065.2 194.5 1066.4 193.5 1067.6 192.6 1068.8 191.7 1070.0 190.8 1071.2 189.9 1072.4 189.0 1073.6 188.1 1074.8 187.2 1076.0 186.3 1077.2 185.5 1078.4 184.6 1079.6 183.7 1080.9 182.9 1082.1 182.1 1083.3 181.2 1084.6 180.4 1085.8 179.6 1087.1 178.8 1088.3 178.0 1089.6 177.2 1090.8 176.5 1092.1 175.7 1093.4 175.0 1094.6 174.2 1095.9 173.5 1097.2 172.8 1098.5 172.1 1099.8 171.4 1101.1 170.7 1102.4 170.0 1103.7 169.4 1105.0 168.7 1106.3 168.1 1107.6 167.5 1109.0 166.8 1110.3 166.2 1111.6 165.7 1113.0 165.1 1114.3 164.5 1115.7 164.0 1117.0 163.4 1118.4 162.9 1119.7 162.4 1121.1 161.9 1122.5 161.4 1123.9 160.9 1125.2 160.4 1126.6 159.9 1128.0 159.5 1129.4 159.1 1130.8 158.6 1132.2 158.2 1133.6 157.8 1135.0 157.4 1136.4 157.0 1137.9 156.6 1139.3 156.2 1140.7 155.9 1142.1 155.5 1143.6 155.2 1145.0 154.8 1146.4 154.5 1147.9 154.2 1149.3 153.9 1150.8 153.6 1152.2 153.3 1153.7 153.0 1155.1 152.7 1156.6 152.5 1158.1 152.2 1159.5 151.9 1161.0 151.7 1162.5 151.5 1163.9 151.2 1165.4 151.0 1166.9 150.8 1168.4 150.6 1169.9 150.4 1171.3 150.2 1172.8 150.0 1174.3 149.8 1175.8 149.6 1177.3 149.4 1178.8 149.2 1180.3 149.1 1181.8 148.9 1183.3 148.8 1184.8 148.6 1186.3 148.5 1187.8 148.3 1189.3 148.2 1190.8 148.0 1192.3 147.9 1193.8 147.8 1195.3 147.7 1196.8 147.6 1198.3 147.5 1199.9 147.3 1201.4 147.2 1202.9 147.1 1204.4 147.0 1205.9 146.9 1207.4 146.9 1209.0 146.8 1210.5 146.7 1212.0 146.6 1213.5 146.5 1215.0 146.4 1216.5 146.3 1218.1 146.3 1219.6 146.2 1221.1 146.1 1222.6 146.1 1224.1 146.0 1225.6 145.9 1227.2 145.8 1228.7 145.8 1230.2 145.7 1231.7 145.6 1233.2 145.6 1234.7 145.5 1236.3 145.5 1237.8 145.4 1239.3 145.3 1240.8 145.3 1242.3 145.2 1243.8 145.2 1245.3 145.1 1246.9 145.0 1248.4 145.0 1249.9 144.9 1251.4 144.9 1252.9 144.8 1254.4 144.8 1255.9 144.7 1257.4 144.7 1258.9 144.6 1260.5 144.6 1262.0 144.5 1263.5 144.5 1265.0 144.4 1266.5 144.4 1268.0 144.3 1269.5 144.3 1271.0 144.3 1272.5 144.2 1274.0 144.2 1275.5 144.1 1277.0 144.1 1278.6 144.1 1280.1 144.0 1281.6 144.0 1283.1 143.9 1284.6 143.9 1286.1 143.9 1287.6 143.8 1289.1 143.8 1290.6 143.8 1292.1 143.7 1293.6 143.7 1295.1 143.7 1296.6 143.7 1298.1 143.6 1299.6 143.6 1301.1 143.6 1302.6 143.5 1304.1 143.5 1305.6 143.5 1307.1 143.5 1308.6 143.4 1310.1 143.4 1311.6 143.4 1313.1 143.4 1314.6 143.3 1316.1 143.3 1317.6 143.3 1319.1 143.3 1320.6 143.3 1322.1 143.2 1323.6 143.2 1325.1 143.2 1326.6 143.2 1328.1 143.2 1329.6 143.2 1331.1 143.1 1332.6 143.1 1334.1 143.1 1335.6 143.1 1337.1 143.1 1338.6 143.1 1340.1 143.1 1341.6 143.0 1343.1 143.0 1344.6 143.0 1346.1 143.0 1347.6 143.0 1349.1 143.0 1350.6 143.0 1352.1 143.0 1353.6 143.0 1355.1 143.0 1356.6 142.9 1358.1 142.9 1359.6 142.9 1361.1 142.9 1362.6 142.9 1364.1 142.9 1365.6 142.9 1367.1 142.9 1368.6 142.9 1370.1 142.9 1371.5 142.9 1373.0 142.9 1374.5 142.9 1376.0 142.9 1377.5 142.9 1379.0 142.9 1380.5 142.9 1382.0 142.9 1383.5 142.9 1385.0 142.9 1386.5 142.9 1388.0 142.9 1389.5 142.9 1391.0 142.9 1392.5 142.9 1394.0 142.9 1395.5 142.9 1397.0 142.9 1398.4 142.9 1399.9 142.9 1401.4 142.9 1402.9 142.9 1404.4 142.9 1405.9 142.9 1407.4 142.9 1408.9 142.9 1410.4 142.9 1411.9 142.9 1413.4 142.9 1414.9 142.9 1416.4 142.9 1417.9 142.9 1419.4 143.0 1420.8 143.0 1422.3 143.0 1423.8 143.0 1425.3 143.0 1426.8 143.0 1428.3 143.0 1429.8 143.0 1431.3 143.0 1432.8 143.0 1434.3 143.0 1435.8 143.0 1437.3 143.0 1438.8 143.0 1440.3 143.0 1441.7 143.1 1443.2 143.1 1444.7 143.1 1446.2 143.1 1447.7 143.1 1449.2 143.1 1450.7 143.1 1452.2 143.1 1453.7 143.1 1455.2 143.1 1456.7 143.1 1458.2 143.1 1459.7 143.1 1461.2 143.2 1462.7 143.2 1464.1 143.2 1465.6 143.2 1467.1 143.2 1468.6 143.2 1470.1 143.2 1471.6 143.2 1473.1 143.2 1474.6 143.2 1476.1 143.2 1477.6 143.2 1479.1 143.3 1480.6 143.3 1482.1 143.3 1483.6 143.3 1485.1 143.3 1486.6 143.3 1488.1 143.3 1489.5 143.3 1491.0 143.3 1492.5 143.3 1494.0 143.3 1495.5 143.3 1497.0 143.3 1498.5 143.3 1500.0 143.4 1501.5 143.4 1503.0 143.4 1504.5 143.4 1506.0 143.4 1507.5 143.4 1509.0 143.4 1510.5 143.4 1512.0 143.4 1513.5 143.4 1515.0 143.4 1516.5 143.4 1518.0 143.4 1519.5 143.4 1521.0 143.4 1522.5 143.4 1524.0 143.4 1525.5 143.4 1527.0 143.4 1528.5 143.4 1530.0 143.4 1531.4 143.4 1532.9 143.4 1534.4 143.4 1535.9 143.4 1537.4 143.4 1538.9 143.4 1540.4 143.4 1541.9 143.4 1543.4 143.4 1544.9 143.4 1546.4 143.4 1547.9 143.4 1549.4 143.4 1550.9 143.4 1552.4 143.4 1553.9 143.4 1555.4 143.4 1556.9 143.4 1558.4 143.4 1559.9 143.4 1561.4 143.4 1562.9 143.4 1564.4 143.4 1565.9 143.4 1567.4 143.4 1568.9 143.4 1570.4 143.4 1572.0 143.4 1573.5 143.4 1575.0 143.4 1576.5 143.4 1578.0 143.4 1579.5 143.4 1581.0 143.4 1582.5 143.4 1584.0 143.4 1585.5 143.4 1587.0 143.4 1588.5 143.4 1590.0 143.4 1591.5 143.4 1593.0 143.4 1594.5 143.4 1596.0 143.4 1597.5 143.4 1599.0 143.4 1600.5 143.4 1602.0 143.3 1603.5 143.3 1605.0 143.3 1606.5 143.3 1608.0 143.3 1609.5 143.3 1611.0 143.3 1612.5 143.3 1614.0 143.3 1615.5 143.3 1617.0 143.3 1618.5 143.3 1620.0 143.3 1621.5 143.3 1623.0 143.3 1624.5 143.3 1626.0 143.3 1627.5 143.3 1629.0 143.2 1630.6 143.2 1632.1 143.2 1633.6 143.2 1635.1 143.2 1636.6 143.2 1638.1 143.2 1639.6 143.2 1641.1 143.2 1642.6 143.2 1644.1 143.2 1645.6 143.2 1647.1 143.2 1648.6 143.2 1650.1 143.2 1651.6 143.2 1653.1 143.2 1654.6 143.1 1656.1 143.1 1657.6 143.1 1659.1 143.1 1660.6 143.1 1662.1 143.1 1663.6 143.1 1665.1 143.1 1666.6 143.1 1668.1 143.1 1669.6 143.1 1671.1 143.1 1672.6 143.1 1674.1 143.1 1675.6 143.1 1677.2 143.1 1678.7 143.0 1680.2 143.0 1681.7 143.0 1683.2 143.0 1684.7 143.0 1686.2 143.0 1687.7 143.0 1689.2 143.0 1690.7 143.0 1692.2 143.0 1693.7 143.0 1695.2 143.0 1696.7 143.0 1698.2 143.0 1699.7 143.0 1701.2 143.0 1702.7 143.0 1704.2 143.0 1705.7 143.0 1707.2 143.0 1708.7 143.0 1710.2 142.9 1711.7 142.9 1713.2 142.9 1714.7 142.9 1716.2 142.9 1717.7 142.9 1719.2 142.9 1720.7 142.9 1722.2 142.9 1723.7 142.9 1725.2 142.9 1726.7 142.9 1728.2 142.9 1729.7 142.9 1731.2 142.9 1732.7 142.9 1734.2 142.9 1735.7 142.9 1737.2 142.9 1738.7 142.9 1740.2 142.9 1741.7 142.9 1743.2 142.9 1744.7 142.9 1746.2 142.9 1747.7 142.9 1749.2 142.9 1750.7 142.9 1752.2 142.9 1753.7 142.9 1755.2 142.9 1756.7 142.9 1758.2 142.9 1759.7 142.9 1761.2 142.9 1762.7 142.9 1764.2 142.9 1765.7 142.9 1767.2 142.9 1768.7 142.9 1770.2 142.9 1771.7 142.9 1773.2 142.9 1774.7 142.9 1776.2 142.9 1777.7 142.9 1779.1 142.9 1780.6 142.9 1782.1 142.9 1783.6 142.9 1785.1 143.0 1786.6 143.0 1788.1 143.0 1789.6 143.0 1791.1 143.0 1792.6 143.0 1794.1 143.0 1795.6 143.0 1797.1 143.0 1798.6 143.0 1800.1 143.0 1801.6 143.0 1803.1 143.0 1804.6 143.0 1806.0 143.0 1807.5 143.1 1809.0 143.1 1810.5 143.1 1812.0 143.1 1813.5 143.1 1815.0 143.1" stroke="#ff0000" stroke-width="4.8" stroke-linecap="round"/>
<path d="M244.0 1115.0L245.5 1115.3 247.0 1115.6 248.6 1115.9 250.1 1116.2 251.6 1116.5 253.1 1116.7 254.6 1117.0 256.2 1117.2 257.7 1117.4 259.2 1117.6 260.7 1117.8 262.2 1118.0 263.7 1118.2 265.2 1118.3 266.7 1118.4 268.2 1118.6" stroke="#00ff00" stroke-width="5.2" stroke-linecap="round"/>
<path d="M244.0 1115.0L245.5 1115.3 247.0 1115.6 248.6 1115.9 250.1 1116.2 251.6 1116.5 253.1 1116.7 254.6 1117.0 256.2 1117.2 257.7 1117.4 259.2 1117.6 260.7 1117.8 262.2 1118.0 263.7 1118.2 265.2 1118.3 266.7 1118.4 268.2 1118.6 269.8 1118.7 271.3 1118.8 272.7 1118.8 274.2 1118.9 275.7 1118.9 277.2 1118.9 278.7 1118.9 280.2 1118.9 281.7 1118.9 283.2 1118.8 284.6 1118.8 286.1 1118.7 287.6 1118.6 289.0 1118.5 290.5 1118.4 292.0 1118.2 293.4 1118.0 294.9 1117.8 296.3 1117.6 297.8 1117.4 299.2 1117.2 300.6 1116.9 302.1 1116.6 303.5 1116.3 304.9 1116.0 306.3 1115.7 307.7 1115.3 309.1 1114.9 310.5 1114.5 311.9 1114.1 313.3 1113.7 314.7 1113.2 316.1 1112.7 317.5 1112.2 318.8 1111.7 320.2 1111.2 321.6 1110.6 322.9 1110.1 324.3 1109.5 325.6 1108.9 327.0 1108.3 328.3 1107.7 329.7 1107.0 331.0 1106.4 332.3 1105.7 333.7 1105.0 335.0 1104.4 336.3 1103.7 337.6 1103.0 338.9 1102.2 340.2 1101.5 341.5 1100.8 342.8 1100.0 344.1 1099.3 345.4 1098.5 346.7 1097.8 348.0 1097.0 349.3 1096.2 350.6 1095.4 351.9 1094.6 353.2 1093.8 354.4 1093.1 355.7 1092.3 357.0 1091.4 358.3 1090.6 359.5 1089.8 360.8 1089.0 362.1 1088.2 363.3 1087.4 364.6 1086.6 365.9 1085.8 367.1 1084.9 368.4 1084.1 369.6 1083.3 370.9 1082.4 372.1 1081.6 373.4 1080.8 374.6 1079.9 375.9 1079.1 377.1 1078.2 378.4 1077.4 379.6 1076.5 380.8 1075.7 382.1 1074.8 383.3 1074.0 384.5 1073.1 385.8 1072.3 387.0 1071.4 388.2 1070.5 389.4 1069.7 390.7 1068.8 391.9 1067.9 393.1 1067.1 394.3 1066.2 395.6 1065.3 396.8 1064.4 398.0 1063.6 399.2 1062.7 400.4 1061.8 401.6 1060.9 402.8 1060.0 404.1 1059.1 405.3 1058.3 406.5 1057.4 407.7 1056.5 408.9 1055.6 410.1 1054.7 411.3 1053.8 412.5 1052.9 413.7 1052.0 414.9 1051.1 416.1 1050.2 417.3 1049.3 418.5 1048.4 419.7 1047.5 420.9 1046.6 422.1 1045.7 423.3 1044.8 424.4 1043.8 425.6 1042.9 426.8 1042.0 428.0 1041.1 429.2 1040.2 430.4 1039.3 431.6 1038.4 432.8 1037.5 434.0 1036.5 435.2 1035.6 436.3 1034.7 437.5 1033.8 438.7 1032.9 439.9 1031.9 441.1 1031.0 442.3 1030.1 443.4 1029.2 444.6 1028.3 445.8 1027.3 447.0 1026.4 448.2 1025.5 449.4 1024.6 450.5 1023.6 451.7 1022.7 452.9 1021.8 454.1 1020.9 455.3 1019.9 456.4 1019.0 457.6 1018.1 458.8 1017.2 460.0 1016.2 461.1 1015.3 462.3 1014.4 463.5 1013.5 464.7 1012.5 465.9 1011.6 467.0 1010.7 468.2 1009.7 469.4 1008.8 470.6 1007.9 471.7 1006.9 472.9 1006.0 474.1 1005.1 475.2 1004.1 476.4 1003.2 477.6 1002.3 478.8 1001.3 479.9 1000.4 481.1 999.5 482.3 998.5 483.4 997.6 484.6 996.7 485.8 995.7 487.0 994.8 488.1 993.9 489.3 992.9 490.5 992.0 491.6 991.0 492.8 990.1 494.0 989.2 495.1 988.2 496.3 987.3 497.5 986.3 498.6 985.4 499.8 984.5 501.0 983.5 502.1 982.6 503.3 981.6 504.5 980.7 505.6 979.8 506.8 978.8 508.0 977.9 509.1 976.9 510.3 976.0 511.4 975.0 512.6 974.1 513.8 973.1 514.9 972.2 516.1 971.3 517.3 970.3 518.4 969.4 519.6 968.4 520.7 967.5 521.9 966.5 523.1 965.6 524.2 964.6 525.4 963.7 526.5 962.7 527.7 961.8 528.9 960.8 530.0 959.9 531.2 958.9 532.3 958.0 533.5 957.0 534.6 956.1 535.8 955.1 537.0 954.2 538.1 953.2 539.3 952.3 540.4 951.3 541.6 950.3 542.7 949.4 543.9 948.4 545.0 947.5 546.2 946.5 547.4 945.6 548.5 944.6 549.7 943.7 550.8 942.7 552.0 941.8 553.1 940.8 554.3 939.8 555.4 938.9 556.6 937.9 557.7 937.0 558.9 936.0 560.0 935.1 561.2 934.1 562.3 933.1 563.5 932.2 564.6 931.2 565.8 930.3 566.9 929.3 568.1 928.3 569.2 927.4 570.4 926.4 571.5 925.5 572.7 924.5 573.8 923.5 575.0 922.6 576.1 921.6 577.3 920.6 578.4 919.7 579.6 918.7 580.7 917.8 581.9 916.8 583.0 915.8 584.2 914.9 585.3 913.9 586.5 912.9 587.6 912.0 588.8 911.0 589.9 910.0 591.0 909.1 592.2 908.1 593.3 907.1 594.5 906.2 595.6 905.2 596.8 904.2 597.9 903.3 599.1 902.3 600.2 901.3 601.4 900.4 602.5 899.4 603.6 898.4 604.8 897.5 605.9 896.5 607.1 895.5 608.2 894.6 609.4 893.6 610.5 892.6 611.6 891.7 612.8 890.7 613.9 889.7 615.1 888.8 616.2 887.8 617.4 886.8 618.5 885.8 619.6 884.9 620.8 883.9 621.9 882.9 623.1 882.0 624.2 881.0 625.3 880.0 626.5 879.0 627.6 878.1 628.8 877.1 629.9 876.1 631.0 875.2 632.2 874.2 633.3 873.2 634.5 872.2 635.6 871.3 636.7 870.3 637.9 869.3 639.0 868.3 640.2 867.4 641.3 866.4 642.4 865.4 643.6 864.4 644.7 863.5 645.8 862.5 647.0 861.5 648.1 860.5 649.3 859.6 650.4 858.6 651.5 857.6 652.7 856.6 653.8 855.7 654.9 854.7 656.1 853.7 657.2 852.7 658.3 851.8 659.5 850.8 660.6 849.8 661.8 848.8 662.9 847.8 664.0 846.9 665.2 845.9 666.3 844.9 667.4 843.9 668.6 843.0 669.7 842.0 670.8 841.0 672.0 840.0 673.1 839.0 674.2 838.1 675.4 837.1 676.5 836.1 677.6 835.1 678.8 834.1 679.9 833.2 681.0 832.2 682.2 831.2 683.3 830.2 684.4 829.2 685.6 828.3 686.7 827.3 687.8 826.3 689.0 825.3 690.1 824.3 691.2 823.4 692.4 822.4 693.5 821.4 694.6 820.4 695.8 819.4 696.9 818.4 698.0 817.5 699.2 816.5 700.3 815.5 701.4 814.5 702.6 813.5 703.7 812.5 704.8 811.6 706.0 810.6 707.1 809.6 708.2 808.6 709.3 807.6 710.5 806.6 711.6 805.7 712.7 804.7 713.9 803.7 715.0 802.7 716.1 801.7 717.3 800.7 718.4 799.8 719.5 798.8 720.6 797.8 721.8 796.8 722.9 795.8 724.0 794.8 725.2 793.8 726.3 792.9 727.4 791.9 728.5 790.9 729.7 789.9 730.8 788.9 731.9 787.9 733.1 786.9 734.2 786.0 735.3 785.0 736.4 784.0 737.6 783.0 738.7 782.0 739.8 781.0 741.0 780.0 742.1 779.1 743.2 778.1 744.3 777.1 745.5 776.1 746.6 775.1 747.7 774.1 748.9 773.1 750.0 772.1 751.1 771.2 752.2 770.2 753.4 769.2 754.5 768.2 755.6 767.2 756.7 766.2 757.9 765.2 759.0 764.2 760.1 763.2 761.2 762.3 762.4 761.3 763.5 760.3 764.6 759.3 765.8 758.3 766.9 757.3 768.0 756.3 769.1 755.3 770.3 754.3 771.4 753.4 772.5 752.4 773.6 751.4 774.8 750.4 775.9 749.4 777.0 748.4 778.1 747.4 779.3 746.4 780.4 745.4 781.5 744.4 782.6 743.5 783.8 742.5 784.9 741.5 786.0 740.5 787.1 739.5 788.3 738.5 789.4 737.5 790.5 736.5 791.6 735.5 792.8 734.5 793.9 733.6 795.0 732.6 796.1 731.6 797.3 730.6 798.4 729.6 799.5 728.6 800.6 727.6 801.8 726.6 802.9 725.6 804.0 724.6 805.1 723.6 806.3 722.6 807.4 721.7 808.5 720.7 809.6 719.7 810.8 718.7 811.9 717.7 813.0 716.7 814.1 715.7 815.3 714.7 816.4 713.7 817.5 712.7 818.6 711.7 819.8 710.7 820.9 709.8 822.0 708.8 823.1 707.8 824.2 706.8 825.4 705.8 826.5 704.8 827.6 703.8 828.7 702.8 829.9 701.8 831.0 700.8 832.1 699.8 833.2 698.8 834.4 697.8 835.5 696.9 836.6 695.9 837.7 694.9 838.9 693.9 840.0 692.9 841.1 691.9 842.2 690.9 843.4 689.9 844.5 688.9 845.6 687.9 846.7 686.9 847.8 685.9 849.0 684.9 850.1 684.0 851.2 683.0 852.3 682.0 853.5 681.0 854.6 680.0 855.7 679.0 856.8 678.0 858.0 677.0 859.1 676.0 860.2 675.0 861.3 674.0 862.4 673.0 863.6 672.0 864.7 671.0 865.8 670.1 866.9 669.1 868.1 668.1 869.2 667.1 870.3 666.1 871.4 665.1 872.6 664.1 873.7 663.1 874.8 662.1 875.9 661.1 877.1 660.1 878.2 659.1 879.3 658.1 880.4 657.1 881.5 656.2 882.7 655.2 883.8 654.2 884.9 653.2 886.0 652.2 887.2 651.2 888.3 650.2 889.4 649.2 890.5 648.2 891.7 647.2 892.8 646.2 893.9 645.2 895.0 644.2 896.2 643.3 897.3 642.3 898.4 641.3 899.5 640.3 900.7 639.3 901.8 638.3 902.9 637.3 904.0 636.3 905.1 635.3 906.3 634.3 907.4 633.3 908.5 632.3 909.6 631.3 910.8 630.4 911.9 629.4 913.0 628.4 914.1 627.4 915.3 626.4 916.4 625.4 917.5 624.4 918.6 623.4 919.8 622.4 920.9 621.4 922.0 620.4 923.1 619.4 924.3 618.5 925.4 617.5 926.5 616.5 927.6 615.5 928.8 614.5 929.9 613.5 931.0 612.5 932.1 611.5 933.3 610.5 934.4 609.5 935.5 608.5 936.6 607.6 937.8 606.6 938.9 605.6 940.0 604.6 941.1 603.6 942.3 602.6 943.4 601.6 944.5 600.6 945.6 599.6 946.8 598.6 947.9 597.6 949.0 596.7 950.1 595.7 951.3 594.7 952.4 593.7 953.5 592.7 954.6 591.7 955.8 590.7 956.9 589.7 958.0 588.7 959.1 587.7 960.3 586.8 961.4 585.8 962.5 584.8 963.6 583.8 964.8 582.8 965.9 581.8 967.0 580.8 968.2 579.8 969.3 578.8 970.4 577.9 971.5 576.9 972.7 575.9 973.8 574.9 974.9 573.9 976.0 572.9 977.2 571.9 978.3 570.9 979.4 569.9 980.6 569.0 981.7 568.0 982.8 567.0 983.9 566.0 985.1 565.0 986.2 564.0 987.3 563.0 988.5 562.0 989.6 561.1 990.7 560.1 991.8 559.1 993.0 558.1 994.1 557.1 995.2 556.1 996.4 555.1 997.5 554.2 998.6 553.2 999.7 552.2 1000.9 551.2 1002.0 550.2 1003.1 549.2 1004.3 548.2 1005.4 547.3 1006.5 546.3 1007.6 545.3 1008.8 544.3 1009.9 543.3 1011.0 542.3 1012.2 541.3 1013.3 540.4 1014.4 539.4 1015.6 538.4 1016.7 537.4 1017.8 536.4 1019.0 535.4 1020.1 534.5 1021.2 533.5 1022.3 532.5 1023.5 531.5 1024.6 530.5 1025.7 529.5 1026.9 528.6 1028.0 527.6 1029.1 526.6 1030.3 525.6 1031.4 524.6 1032.5 523.6 1033.7 522.7 1034.8 521.7 1035.9 520.7 1037.1 519.7 1038.2 518.7 1039.3 517.8 1040.5 516.8 1041.6 515.8 1042.7 514.8 1043.9 513.8 1045.0 512.9 1046.1 511.9 1047.3 510.9 1048.4 509.9 1049.5 508.9 1050.7 508.0 1051.8 507.0 1052.9 506.0 1054.1 505.0 1055.2 504.0 1056.3 503.1 1057.5 502.1 1058.6 501.1 1059.8 500.1 1060.9 499.1 1062.0 498.2 1063.2 497.2 1064.3 496.2 1065.4 495.2 1066.6 494.3 1067.7 493.3 1068.8 492.3 1070.0 491.3 1071.1 490.3 1072.3 489.4 1073.4 488.4 1074.5 487.4 1075.7 486.4 1076.8 485.5 1077.9 484.5 1079.1 483.5 1080.2 482.5 1081.4 481.6 1082.5 480.6 1083.6 479.6 1084.8 478.6 1085.9 477.7 1087.1 476.7 1088.2 475.7 1089.3 474.7 1090.5 473.8 1091.6 472.8 1092.8 471.8 1093.9 470.9 1095.0 469.9 1096.2 468.9 1097.3 467.9 1098.5 467.0 1099.6 466.0 1100.7 465.0 1101.9 464.1 1103.0 463.1 1104.2 462.1 1105.3 461.1 1106.4 460.2 1107.6 459.2 1108.7 458.2 1109.9 457.3 1111.0 456.3 1112.2 455.3 1113.3 454.4 1114.4 453.4 1115.6 452.4 1116.7 451.4 1117.9 450.5 1119.0 449.5 1120.2 448.5 1121.3 447.6 1122.5 446.6 1123.6 445.6 1124.7 444.7 1125.9 443.7 1127.0 442.7 1128.2 441.8 1129.3 440.8 1130.5 439.8 1131.6 438.9 1132.8 437.9 1133.9 437.0 1135.1 436.0 1136.2 435.0 1137.4 434.1 1138.5 433.1 1139.7 432.1 1140.8 431.2 1142.0 430.2 1143.1 429.2 1144.2 428.3 1145.4 427.3 1146.5 426.4 1147.7 425.4 1148.8 424.4 1150.0 423.5 1151.1 422.5 1152.3 421.5 1153.4 420.6 1154.6 419.6 1155.7 418.7 1156.9 417.7 1158.0 416.7 1159.2 415.8 1160.4 414.8 1161.5 413.9 1162.7 412.9 1163.8 412.0 1165.0 411.0 1166.1 410.0 1167.3 409.1 1168.4 408.1 1169.6 407.2 1170.7 406.2 1171.9 405.3 1173.0 404.3 1174.2 403.3 1175.3 402.4 1176.5 401.4 1177.7 400.5 1178.8 399.5 1180.0 398.6 1181.1 397.6 1182.3 396.7 1183.4 395.7 1184.6 394.8 1185.7 393.8 1186.9 392.8 1188.1 391.9 1189.2 390.9 1190.4 390.0 1191.5 389.0 1192.7 388.1 1193.8 387.1 1195.0 386.2 1196.2 385.2 1197.3 384.3 1198.5 383.3 1199.6 382.4 1200.8 381.4 1202.0 380.5 1203.1 379.5 1204.3 378.6 1205.4 377.6 1206.6 376.7 1207.8 375.8 1208.9 374.8 1210.1 373.9 1211.3 372.9 1212.4 372.0 1213.6 371.0 1214.7 370.1 1215.9 369.1 1217.1 368.2 1218.2 367.2 1219.4 366.3 1220.6 365.4 1221.7 364.4 1222.9 363.5 1224.1 362.5 1225.2 361.6 1226.4 360.6 1227.5 359.7 1228.7 358.8 1229.9 357.8 1231.0 356.9 1232.2 355.9 1233.4 355.0 1234.5 354.1 1235.7 353.1 1236.9 352.2 1238.1 351.2 1239.2 350.3 1240.4 349.4 1241.6 348.4 1242.7 347.5 1243.9 346.5 1245.1 345.6 1246.2 344.7 1247.4 343.7 1248.6 342.8 1249.7 341.9 1250.9 340.9 1252.1 340.0 1253.3 339.1 1254.4 338.1 1255.6 337.2 1256.8 336.3 1258.0 335.3 1259.1 334.4 1260.3 333.5 1261.5 332.5 1262.6 331.6 1263.8 330.7 1265.0 329.7 1266.2 328.8 1267.3 327.9 1268.5 326.9 1269.7 326.0 1270.9 325.1 1272.1 324.2 1273.2 323.2 1274.4 322.3 1275.6 321.4 1276.8 320.4 1277.9 319.5 1279.1 318.6 1280.3 317.7 1281.5 316.7 1282.7 315.8 1283.8 314.9 1285.0 314.0 1286.2 313.0 1287.4 312.1 1288.6 311.2 1289.7 310.3 1290.9 309.4 1292.1 308.4 1293.3 307.5 1294.5 306.6 1295.7 305.7 1296.8 304.7 1298.0 303.8 1299.2 302.9 1300.4 302.0 1301.6 301.1 1302.8 300.2 1303.9 299.2 1305.1 298.3 1306.3 297.4 1307.5 296.5 1308.7 295.6 1309.9 294.7 1311.1 293.8 1312.3 292.8 1313.5 291.9 1314.6 291.0 1315.8 290.1 1317.0 289.2 1318.2 288.3 1319.4 287.4 1320.6 286.5 1321.8 285.6 1323.0 284.7 1324.2 283.8 1325.4 282.9 1326.6 282.0 1327.8 281.0 1329.0 280.1 1330.2 279.2 1331.4 278.3 1332.6 277.4 1333.8 276.5 1335.0 275.6 1336.2 274.7 1337.4 273.8 1338.6 273.0 1339.8 272.1 1341.0 271.2 1342.2 270.3 1343.4 269.4 1344.6 268.5 1345.8 267.6 1347.0 266.7 1348.2 265.8 1349.4 264.9 1350.6 264.0 1351.8 263.1 1353.0 262.3 1354.2 261.4 1355.4 260.5 1356.7 259.6 1357.9 258.7 1359.1 257.8 1360.3 257.0 1361.5 256.1 1362.7 255.2 1363.9 254.3 1365.1 253.4 1366.4 252.6 1367.6 251.7 1368.8 250.8 1370.0 249.9 1371.2 249.1 1372.5 248.2 1373.7 247.3 1374.9 246.5 1376.1 245.6 1377.3 244.7 1378.6 243.9 1379.8 243.0 1381.0 242.1 1382.2 241.3 1383.5 240.4 1384.7 239.5 1385.9 238.7 1387.1 237.8 1388.4 237.0 1389.6 236.1 1390.8 235.2 1392.1 234.4 1393.3 233.5 1394.5 232.7 1395.8 231.8 1397.0 231.0 1398.2 230.1 1399.5 229.3 1400.7 228.4 1401.9 227.6 1403.2 226.7 1404.4 225.9 1405.7 225.1 1406.9 224.2 1408.2 223.4 1409.4 222.5 1410.6 221.7 1411.9 220.9 1413.1 220.0 1414.4 219.2 1415.6 218.4 1416.9 217.5 1418.1 216.7 1419.4 215.9 1420.6 215.1 1421.9 214.2 1423.1 213.4 1424.4 212.6 1425.6 211.8 1426.9 210.9 1428.2 210.1 1429.4 209.3 1430.7 208.5 1431.9 207.7 1433.2 206.9 1434.5 206.1 1435.7 205.2 1437.0 204.4 1438.3 203.6 1439.5 202.8 1440.8 202.0 1442.1 201.2 1443.3 200.4 1444.6 199.6 1445.9 198.8 1447.1 198.0 1448.4 197.2 1449.7 196.4 1451.0 195.6 1452.2 194.8 1453.5 194.0 1454.8 193.3 1456.1 192.5 1457.4 191.7 1458.6 190.9 1459.9 190.1 1461.2 189.3 1462.5 188.5 1463.8 187.8 1465.1 187.0 1466.3 186.2 1467.6 185.4 1468.9 184.7 1470.2 183.9 1471.5 183.1 1472.8 182.4 1474.1 181.6 1475.4 180.8 1476.7 180.1 1478.0 179.3 1479.3 178.6 1480.6 177.8 1481.9 177.1 1483.2 176.3 1484.5 175.6 1485.8 174.8 1487.1 174.1 1488.4 173.4 1489.7 172.6 1491.1 171.9 1492.4 171.2 1493.7 170.4 1495.0 169.7 1496.3 169.0 1497.6 168.3 1499.0 167.6 1500.3 166.9 1501.6 166.2 1502.9 165.5 1504.3 164.8 1505.6 164.1 1506.9 163.4 1508.2 162.7 1509.6 162.0 1510.9 161.4 1512.2 160.7 1513.6 160.0 1514.9 159.4 1516.3 158.7 1517.6 158.0 1518.9 157.4 1520.3 156.7 1521.6 156.1 1523.0 155.5 1524.3 154.8 1525.7 154.2 1527.0 153.6 1528.4 153.0 1529.7 152.4 1531.1 151.8 1532.5 151.2 1533.8 150.6 1535.2 150.0 1536.6 149.4 1537.9 148.8 1539.3 148.3 1540.7 147.7 1542.0 147.1 1543.4 146.6 1544.8 146.0 1546.2 145.5 1547.5 144.9 1548.9 144.4 1550.3 143.9 1551.7 143.4 1553.1 142.9 1554.5 142.4 1555.9 141.9 1557.3 141.4 1558.7 140.9 1560.1 140.4 1561.5 139.9 1562.9 139.5 1564.3 139.0 1565.7 138.6 1567.1 138.1 1568.5 137.7 1569.9 137.3 1571.3 136.8 1572.7 136.4 1574.1 136.0 1575.6 135.6 1577.0 135.2 1578.4 134.8 1579.8 134.5 1581.3 134.1 1582.7 133.7 1584.1 133.4 1585.6 133.0 1587.0 132.7 1588.4 132.4 1589.9 132.1 1591.3 131.8 1592.8 131.5 1594.2 131.2 1595.7 130.9 1597.1 130.6 1598.6 130.3 1600.0 130.1 1601.5 129.8 1603.0 129.6 1604.4 129.4 1605.9 129.1 1607.4 128.9 1608.8 128.7 1610.3 128.5 1611.8 128.3 1613.3 128.2 1614.8 128.0 1616.2 127.8 1617.7 127.7 1619.2 127.6 1620.7 127.4 1622.2 127.3 1623.7 127.2 1625.2 127.1 1626.7 127.0 1628.2 127.0 1629.7 126.9 1631.2 126.8 1632.8 126.8 1634.3 126.8 1635.8 126.7 1637.3 126.7 1638.8 126.7 1640.4 126.7 1641.9 126.8 1643.4 126.8 1645.0 126.8 1646.5 126.9 1648.0 126.9 1649.6 127.0 1651.1 127.1 1652.7 127.2 1654.2 127.3 1655.8 127.4 1657.3 127.6 1658.9 127.7 1660.5 127.9 1662.0 128.0" stroke="#00ff00" stroke-width="5.2" stroke-linecap="round" stroke-dasharray="23 30.9" stroke-dashoffset="3"/>
<path d="M244.0 1115.5L245.7 1115.9 247.3 1116.3 249.0 1116.7 250.6 1117.0 252.2 1117.2 253.8 1117.5 255.4 1117.6 256.9 1117.8 258.5 1117.9 260.0 1117.9 261.5 1117.9 263.0 1117.9 264.5 1117.8 266.0 1117.7 267.5 1117.6 268.9 1117.4" stroke="#00ffff" stroke-width="5.2" stroke-linecap="round"/>
<path d="M244.0 1115.5L245.7 1115.9 247.3 1116.3 249.0 1116.7 250.6 1117.0 252.2 1117.2 253.8 1117.5 255.4 1117.6 256.9 1117.8 258.5 1117.9 260.0 1117.9 261.5 1117.9 263.0 1117.9 264.5 1117.8 266.0 1117.7 267.5 1117.6 268.9 1117.4 270.3 1117.2 271.7 1116.9 273.1 1116.6 274.5 1116.3 275.9 1116.0 277.3 1115.6 278.6 1115.2 279.9 1114.7 281.3 1114.3 282.6 1113.7 283.9 1113.2 285.2 1112.7 286.4 1112.1 287.7 1111.5 288.9 1110.8 290.2 1110.1 291.4 1109.5 292.6 1108.7 293.8 1108.0 295.0 1107.2 296.2 1106.5 297.3 1105.7 298.5 1104.8 299.7 1104.0 300.8 1103.1 301.9 1102.3 303.0 1101.4 304.1 1100.5 305.2 1099.5 306.3 1098.6 307.4 1097.6 308.5 1096.6 309.6 1095.6 310.6 1094.6 311.7 1093.6 312.7 1092.6 313.7 1091.5 314.7 1090.5 315.8 1089.4 316.8 1088.3 317.8 1087.2 318.8 1086.1 319.8 1085.0 320.8 1083.8 321.7 1082.7 322.7 1081.5 323.7 1080.4 324.6 1079.2 325.6 1078.0 326.5 1076.8 327.5 1075.7 328.4 1074.5 329.4 1073.3 330.3 1072.0 331.2 1070.8 332.2 1069.6 333.1 1068.4 334.0 1067.2 334.9 1065.9 335.8 1064.7 336.8 1063.4 337.7 1062.2 338.6 1061.0 339.5 1059.7 340.4 1058.5 341.3 1057.2 342.2 1056.0 343.1 1054.7 344.0 1053.5 344.9 1052.2 345.8 1051.0 346.7 1049.8 347.6 1048.5 348.5 1047.3 349.4 1046.0 350.3 1044.8 351.2 1043.6 352.1 1042.4 353.0 1041.1 353.9 1039.9 354.8 1038.7 355.7 1037.4 356.6 1036.2 357.5 1035.0 358.4 1033.8 359.3 1032.6 360.2 1031.4 361.1 1030.1 362.0 1028.9 362.9 1027.7 363.8 1026.5 364.7 1025.3 365.6 1024.1 366.5 1022.9 367.4 1021.7 368.3 1020.5 369.2 1019.3 370.1 1018.1 371.0 1016.9 371.9 1015.7 372.8 1014.5 373.7 1013.3 374.6 1012.1 375.5 1010.9 376.4 1009.7 377.3 1008.5 378.2 1007.3 379.1 1006.1 380.0 1004.9 380.9 1003.7 381.8 1002.5 382.7 1001.3 383.6 1000.2 384.5 999.0 385.4 997.8 386.3 996.6 387.2 995.4 388.0 994.2 388.9 993.0 389.8 991.8 390.7 990.7 391.6 989.5 392.5 988.3 393.4 987.1 394.3 985.9 395.2 984.7 396.1 983.6 397.0 982.4 397.9 981.2 398.8 980.0 399.6 978.8 400.5 977.6 401.4 976.5 402.3 975.3 403.2 974.1 404.1 972.9 405.0 971.7 405.9 970.5 406.8 969.4 407.6 968.2 408.5 967.0 409.4 965.8 410.3 964.6 411.2 963.4 412.1 962.2 413.0 961.1 413.8 959.9 414.7 958.7 415.6 957.5 416.5 956.3 417.4 955.1 418.3 953.9 419.1 952.7 420.0 951.6 420.9 950.4 421.8 949.2 422.7 948.0 423.6 946.8 424.4 945.6 425.3 944.4 426.2 943.2 427.1 942.0 428.0 940.8 428.8 939.6 429.7 938.4 430.6 937.2 431.5 936.0 432.3 934.8 433.2 933.6 434.1 932.4 435.0 931.2 435.8 930.0 436.7 928.8 437.6 927.6 438.5 926.4 439.3 925.2 440.2 924.0 441.1 922.8 442.0 921.6 442.8 920.4 443.7 919.2 444.6 918.0 445.5 916.8 446.3 915.6 447.2 914.3 448.1 913.1 449.0 911.9 449.8 910.7 450.7 909.5 451.6 908.3 452.4 907.1 453.3 905.9 454.2 904.7 455.0 903.4 455.9 902.2 456.8 901.0 457.7 899.8 458.5 898.6 459.4 897.4 460.3 896.2 461.1 895.0 462.0 893.7 462.9 892.5 463.7 891.3 464.6 890.1 465.5 888.9 466.3 887.7 467.2 886.4 468.1 885.2 468.9 884.0 469.8 882.8 470.7 881.6 471.5 880.3 472.4 879.1 473.3 877.9 474.1 876.7 475.0 875.5 475.9 874.2 476.7 873.0 477.6 871.8 478.4 870.6 479.3 869.3 480.2 868.1 481.0 866.9 481.9 865.7 482.8 864.5 483.6 863.2 484.5 862.0 485.4 860.8 486.2 859.6 487.1 858.3 487.9 857.1 488.8 855.9 489.7 854.7 490.5 853.4 491.4 852.2 492.3 851.0 493.1 849.8 494.0 848.5 494.8 847.3 495.7 846.1 496.6 844.8 497.4 843.6 498.3 842.4 499.2 841.2 500.0 839.9 500.9 838.7 501.7 837.5 502.6 836.3 503.5 835.0 504.3 833.8 505.2 832.6 506.1 831.3 506.9 830.1 507.8 828.9 508.6 827.7 509.5 826.4 510.4 825.2 511.2 824.0 512.1 822.7 512.9 821.5 513.8 820.3 514.7 819.1 515.5 817.8 516.4 816.6 517.2 815.4 518.1 814.1 519.0 812.9 519.8 811.7 520.7 810.4 521.6 809.2 522.4 808.0 523.3 806.8 524.1 805.5 525.0 804.3 525.9 803.1 526.7 801.8 527.6 800.6 528.5 799.4 529.3 798.1 530.2 796.9 531.0 795.7 531.9 794.5 532.8 793.2 533.6 792.0 534.5 790.8 535.4 789.5 536.2 788.3 537.1 787.1 537.9 785.9 538.8 784.6 539.7 783.4 540.5 782.2 541.4 780.9 542.3 779.7 543.1 778.5 544.0 777.3 544.8 776.0 545.7 774.8 546.6 773.6 547.4 772.3 548.3 771.1 549.2 769.9 550.0 768.7 550.9 767.4 551.8 766.2 552.6 765.0 553.5 763.7 554.4 762.5 555.2 761.3 556.1 760.1 557.0 758.8 557.8 757.6 558.7 756.4 559.6 755.2 560.4 753.9 561.3 752.7 562.2 751.5 563.0 750.3 563.9 749.0 564.8 747.8 565.6 746.6 566.5 745.4 567.4 744.1 568.2 742.9 569.1 741.7 570.0 740.5 570.8 739.3 571.7 738.0 572.6 736.8 573.4 735.6 574.3 734.4 575.2 733.2 576.1 731.9 576.9 730.7 577.8 729.5 578.7 728.3 579.5 727.0 580.4 725.8 581.3 724.6 582.2 723.4 583.0 722.2 583.9 720.9 584.8 719.7 585.6 718.5 586.5 717.3 587.4 716.1 588.3 714.9 589.1 713.6 590.0 712.4 590.9 711.2 591.8 710.0 592.6 708.8 593.5 707.6 594.4 706.3 595.3 705.1 596.1 703.9 597.0 702.7 597.9 701.5 598.8 700.3 599.6 699.0 600.5 697.8 601.4 696.6 602.3 695.4 603.1 694.2 604.0 693.0 604.9 691.7 605.8 690.5 606.6 689.3 607.5 688.1 608.4 686.9 609.3 685.7 610.1 684.5 611.0 683.3 611.9 682.0 612.8 680.8 613.7 679.6 614.5 678.4 615.4 677.2 616.3 676.0 617.2 674.8 618.1 673.6 618.9 672.3 619.8 671.1 620.7 669.9 621.6 668.7 622.5 667.5 623.3 666.3 624.2 665.1 625.1 663.9 626.0 662.7 626.9 661.4 627.7 660.2 628.6 659.0 629.5 657.8 630.4 656.6 631.3 655.4 632.1 654.2 633.0 653.0 633.9 651.8 634.8 650.6 635.7 649.3 636.6 648.1 637.4 646.9 638.3 645.7 639.2 644.5 640.1 643.3 641.0 642.1 641.9 640.9 642.7 639.7 643.6 638.5 644.5 637.3 645.4 636.1 646.3 634.9 647.2 633.6 648.0 632.4 648.9 631.2 649.8 630.0 650.7 628.8 651.6 627.6 652.5 626.4 653.4 625.2 654.2 624.0 655.1 622.8 656.0 621.6 656.9 620.4 657.8 619.2 658.7 618.0 659.6 616.8 660.4 615.6 661.3 614.4 662.2 613.2 663.1 611.9 664.0 610.7 664.9 609.5 665.8 608.3 666.7 607.1 667.5 605.9 668.4 604.7 669.3 603.5 670.2 602.3 671.1 601.1 672.0 599.9 672.9 598.7 673.8 597.5 674.6 596.3 675.5 595.1 676.4 593.9 677.3 592.7 678.2 591.5 679.1 590.3 680.0 589.1 680.9 587.9 681.8 586.7 682.7 585.5 683.5 584.3 684.4 583.1 685.3 581.9 686.2 580.7 687.1 579.5 688.0 578.3 688.9 577.1 689.8 575.9 690.7 574.7 691.6 573.5 692.5 572.3 693.3 571.1 694.2 569.9 695.1 568.6 696.0 567.4 696.9 566.2 697.8 565.0 698.7 563.8 699.6 562.6 700.5 561.4 701.4 560.2 702.3 559.0 703.2 557.8 704.1 556.6 705.0 555.4 705.8 554.2 706.7 553.0 707.6 551.8 708.5 550.6 709.4 549.4 710.3 548.2 711.2 547.0 712.1 545.8 713.0 544.6 713.9 543.4 714.8 542.2 715.7 541.0 716.6 539.8 717.5 538.6 718.4 537.4 719.3 536.2 720.2 535.0 721.1 533.8 721.9 532.7 722.8 531.5 723.7 530.3 724.6 529.1 725.5 527.9 726.4 526.7 727.3 525.5 728.2 524.3 729.1 523.1 730.0 521.9 730.9 520.7 731.8 519.5 732.7 518.3 733.6 517.1 734.5 515.9 735.4 514.7 736.3 513.5 737.2 512.3 738.1 511.1 739.0 509.9 739.9 508.7 740.8 507.5 741.7 506.3 742.6 505.1 743.5 503.9 744.4 502.7 745.3 501.5 746.2 500.3 747.1 499.1 748.0 497.9 748.9 496.7 749.8 495.5 750.7 494.3 751.6 493.1 752.5 491.9 753.4 490.7 754.3 489.5 755.2 488.3 756.1 487.1 757.0 485.9 757.9 484.7 758.8 483.5 759.7 482.3 760.6 481.1 761.5 479.9 762.4 478.7 763.3 477.5 764.2 476.3 765.1 475.1 766.0 473.9 766.9 472.7 767.8 471.5 768.7 470.3 769.6 469.1 770.5 468.0 771.4 466.8 772.3 465.6 773.2 464.4 774.1 463.2 775.0 462.0 775.9 460.8 776.8 459.6 777.7 458.4 778.6 457.2 779.5 456.0 780.4 454.8 781.3 453.6 782.2 452.4 783.1 451.2 784.0 450.0 784.9 448.8 785.8 447.6 786.7 446.4 787.6 445.2 788.5 444.0 789.4 442.8 790.3 441.6 791.2 440.4 792.1 439.2 793.0 438.0 793.9 436.8 794.8 435.6 795.7 434.4 796.6 433.2 797.5 432.0 798.5 430.8 799.4 429.6 800.3 428.4 801.2 427.2 802.1 426.0 803.0 424.8 803.9 423.6 804.8 422.4 805.7 421.2 806.6 420.0 807.5 418.8 808.4 417.6 809.3 416.4 810.2 415.2 811.1 414.0 812.0 412.8 812.9 411.6 813.8 410.4 814.7 409.2 815.6 408.0 816.5 406.8 817.4 405.6 818.4 404.4 819.3 403.2 820.2 402.0 821.1 400.8 822.0 399.6 822.9 398.4 823.8 397.2 824.7 396.0 825.6 394.8 826.5 393.6 827.4 392.4 828.3 391.2 829.2 390.0 830.1 388.8 831.0 387.6 831.9 386.4 832.8 385.2 833.8 384.0 834.7 382.8 835.6 381.6 836.5 380.4 837.4 379.2 838.3 378.0 839.2 376.8 840.1 375.6 841.0 374.4 841.9 373.2 842.8 372.0 843.7 370.8 844.6 369.6 845.5 368.4 846.4 367.2 847.4 366.0 848.3 364.8 849.2 363.6 850.1 362.4 851.0 361.2 851.9 360.0 852.8 358.8 853.7 357.6 854.6 356.4 855.5 355.2 856.4 354.0 857.3 352.8 858.2 351.6 859.2 350.4 860.1 349.2 861.0 348.0 861.9 346.8 862.8 345.6 863.7 344.4 864.6 343.2 865.5 342.0 866.4 340.8 867.3 339.6 868.2 338.4 869.1 337.2 870.0 336.0 871.0 334.8 871.9 333.6 872.8 332.4 873.7 331.2 874.6 330.0 875.5 328.8 876.4 327.6 877.3 326.4 878.2 325.2 879.2 324.0 880.1 322.8 881.0 321.6 881.9 320.4 882.8 319.2 883.7 318.0 884.6 316.8 885.6 315.6 886.5 314.4 887.4 313.2 888.3 312.0 889.2 310.8 890.2 309.6 891.1 308.4 892.0 307.2 892.9 306.0 893.9 304.8 894.8 303.7 895.7 302.5 896.6 301.3 897.6 300.1 898.5 298.9 899.4 297.7 900.3 296.5 901.3 295.4 902.2 294.2 903.1 293.0 904.1 291.8 905.0 290.7 906.0 289.5 906.9 288.3 907.8 287.1 908.8 286.0 909.7 284.8 910.7 283.6 911.6 282.5 912.6 281.3 913.5 280.1 914.5 279.0 915.4 277.8 916.4 276.6 917.3 275.5 918.3 274.3 919.2 273.2 920.2 272.0 921.1 270.9 922.1 269.7 923.1 268.6 924.0 267.4 925.0 266.3 926.0 265.1 926.9 264.0 927.9 262.9 928.9 261.7 929.9 260.6 930.8 259.5 931.8 258.3 932.8 257.2 933.8 256.1 934.8 255.0 935.7 253.8 936.7 252.7 937.7 251.6 938.7 250.5 939.7 249.4 940.7 248.3 941.7 247.2 942.7 246.0 943.7 244.9 944.7 243.8 945.7 242.7 946.7 241.6 947.7 240.6 948.8 239.5 949.8 238.4 950.8 237.3 951.8 236.2 952.8 235.1 953.9 234.0 954.9 233.0 955.9 231.9 957.0 230.8 958.0 229.8 959.0 228.7 960.1 227.6 961.1 226.6 962.2 225.5 963.2 224.5 964.3 223.4 965.3 222.4 966.4 221.3 967.4 220.3 968.5 219.2 969.6 218.2 970.6 217.2 971.7 216.2 972.8 215.1 973.8 214.1 974.9 213.1 976.0 212.1 977.1 211.1 978.2 210.1 979.3 209.0 980.4 208.0 981.5 207.0 982.6 206.1 983.7 205.1 984.8 204.1 985.9 203.1 987.0 202.1 988.1 201.1 989.2 200.2 990.3 199.2 991.5 198.2 992.6 197.3 993.7 196.3 994.9 195.3 996.0 194.4 997.1 193.4 998.3 192.5 999.4 191.6 1000.6 190.6 1001.7 189.7 1002.9 188.8 1004.1 187.8 1005.2 186.9 1006.4 186.0 1007.6 185.1 1008.7 184.2 1009.9 183.3 1011.1 182.4 1012.3 181.5 1013.5 180.6 1014.7 179.7 1015.9 178.8 1017.1 177.9 1018.3 177.1 1019.5 176.2 1020.7 175.3 1021.9 174.5 1023.2 173.6 1024.4 172.8 1025.6 171.9 1026.8 171.1 1028.1 170.2 1029.3 169.4 1030.6 168.6 1031.8 167.7 1033.1 166.9 1034.3 166.1 1035.6 165.3 1036.8 164.5 1038.1 163.7 1039.4 162.9 1040.7 162.1 1042.0 161.3 1043.2 160.5 1044.5 159.8 1045.8 159.0 1047.1 158.2 1048.4 157.5 1049.7 156.7 1051.0 156.0 1052.4 155.2 1053.7 154.5 1055.0 153.8 1056.3 153.1 1057.7 152.4 1059.0 151.7 1060.3 151.0 1061.7 150.3 1063.0 149.6 1064.4 148.9 1065.7 148.3 1067.1 147.6 1068.4 147.0 1069.8 146.3 1071.2 145.7 1072.5 145.1 1073.9 144.5 1075.3 143.9 1076.7 143.3 1078.1 142.7 1079.5 142.2 1080.8 141.6 1082.2 141.1 1083.6 140.5 1085.0 140.0 1086.5 139.5 1087.9 139.0 1089.3 138.5 1090.7 138.0 1092.1 137.6 1093.5 137.1 1095.0 136.7 1096.4 136.2 1097.8 135.8 1099.3 135.4 1100.7 135.0 1102.2 134.6 1103.6 134.3 1105.0 133.9 1106.5 133.6 1108.0 133.2 1109.4 132.9 1110.9 132.6 1112.3 132.3 1113.8 132.0 1115.3 131.7 1116.7 131.5 1118.2 131.2 1119.7 131.0 1121.2 130.7 1122.6 130.5 1124.1 130.3 1125.6 130.1 1127.1 129.9 1128.6 129.7 1130.1 129.5 1131.5 129.3 1133.0 129.1 1134.5 129.0 1136.0 128.8 1137.5 128.6 1139.0 128.5 1140.5 128.4 1142.0 128.2 1143.5 128.1 1145.0 127.9 1146.5 127.8 1148.0 127.7 1149.5 127.6 1151.0 127.5 1152.5 127.4 1154.0 127.2 1155.5 127.1 1157.0 127.0 1158.4 126.9 1159.9 126.8 1161.4 126.7 1162.9 126.7 1164.4 126.6 1165.9 126.5 1167.4 126.4 1168.9 126.3 1170.4 126.2 1171.9 126.2 1173.4 126.1 1174.9 126.0 1176.4 126.0 1177.9 125.9 1179.4 125.8 1180.9 125.8 1182.4 125.7 1183.9 125.7 1185.4 125.6 1186.9 125.6 1188.4 125.5 1189.9 125.5 1191.4 125.4 1192.9 125.4 1194.4 125.3 1195.9 125.3 1197.4 125.3 1198.9 125.2 1200.4 125.2 1201.9 125.2 1203.4 125.1 1204.9 125.1 1206.4 125.1 1207.9 125.0 1209.4 125.0 1210.9 125.0 1212.4 125.0 1213.9 125.0 1215.4 124.9 1216.9 124.9 1218.4 124.9 1219.9 124.9 1221.4 124.9 1222.9 124.9 1224.4 124.9 1225.9 124.9 1227.4 124.8 1228.9 124.8 1230.4 124.8 1231.9 124.8 1233.4 124.8 1234.9 124.8 1236.4 124.8 1237.9 124.8 1239.4 124.8 1240.9 124.8 1242.4 124.8 1243.9 124.8 1245.4 124.8 1246.9 124.8 1248.4 124.8 1249.9 124.8 1251.4 124.8 1252.9 124.8 1254.4 124.8 1255.9 124.8 1257.4 124.8 1258.9 124.8 1260.4 124.8 1261.9 124.8 1263.4 124.8 1264.9 124.8 1266.4 124.8 1267.9 124.9 1269.4 124.9 1270.9 124.9 1272.4 124.9 1273.9 124.9 1275.4 124.9 1276.9 124.9 1278.4 124.9 1279.9 124.9 1281.4 124.9 1282.9 124.9 1284.4 124.9 1285.9 124.9 1287.4 124.9 1288.9 124.9 1290.4 124.9 1291.9 124.9 1293.4 124.9 1294.9 124.9 1296.4 124.9 1297.9 124.9 1299.4 124.9 1300.9 124.9 1302.4 124.9 1303.9 124.9 1305.4 124.9 1306.9 124.9 1308.4 124.9 1309.9 124.9 1311.4 124.9 1312.9 124.9 1314.4 124.9 1315.9 124.9 1317.4 124.9 1318.9 124.9 1320.4 124.9 1321.9 124.9 1323.4 124.9 1324.9 124.9 1326.4 124.9 1327.9 124.9 1329.4 124.9 1330.9 124.9 1332.4 124.9 1333.9 124.9 1335.4 124.9 1336.9 124.9 1338.4 124.9 1339.9 124.9 1341.3 124.9 1342.8 124.9 1344.3 124.9 1345.8 124.9 1347.3 124.9 1348.8 124.9 1350.3 124.9 1351.8 124.9 1353.3 124.9 1354.8 124.9 1356.3 124.9 1357.8 124.9 1359.3 124.9 1360.8 124.9 1362.3 124.9 1363.8 124.9 1365.3 124.9 1366.8 124.9 1368.3 124.9 1369.8 124.9 1371.3 124.9 1372.8 124.9 1374.3 124.9 1375.8 124.9 1377.3 124.9 1378.8 124.9 1380.3 124.9 1381.8 124.9 1383.3 124.9 1384.8 124.9 1386.3 124.9 1387.8 124.9 1389.3 124.9 1390.8 124.9 1392.3 124.9 1393.8 124.9 1395.3 124.9 1396.8 124.9 1398.3 124.9 1399.8 124.9 1401.3 124.9 1402.8 124.9 1404.3 124.9 1405.8 124.9 1407.3 124.9 1408.8 124.9 1410.3 124.9 1411.8 124.9 1413.3 124.9 1414.8 124.9 1416.3 124.9 1417.8 124.9 1419.3 124.9 1420.8 124.9 1422.3 124.9 1423.8 124.9 1425.3 124.9 1426.8 124.9 1428.3 124.8 1429.8 124.8 1431.3 124.8 1432.8 124.8 1434.3 124.8 1435.8 124.8 1437.3 124.8 1438.8 124.8 1440.3 124.8 1441.8 124.8 1443.3 124.8 1444.8 124.8 1446.3 124.8 1447.8 124.8 1449.3 124.8 1450.8 124.8 1452.3 124.8 1453.8 124.8 1455.3 124.8 1456.8 124.8 1458.2 124.8 1459.7 124.8 1461.2 124.8 1462.7 124.8 1464.2 124.8 1465.7 124.8 1467.2 124.8 1468.7 124.8 1470.2 124.8 1471.7 124.8 1473.2 124.8 1474.7 124.8 1476.2 124.8 1477.7 124.8 1479.2 124.8 1480.7 124.8 1482.2 124.8 1483.7 124.8 1485.2 124.8 1486.7 124.8 1488.2 124.8 1489.7 124.8 1491.2 124.8 1492.7 124.8 1494.2 124.8 1495.7 124.8 1497.2 124.8 1498.7 124.8 1500.2 124.8 1501.7 124.8 1503.2 124.8 1504.7 124.8 1506.2 124.8 1507.7 124.8 1509.2 124.8 1510.7 124.8 1512.2 124.8 1513.7 124.8 1515.2 124.7 1516.7 124.7 1518.2 124.7 1519.7 124.7 1521.2 124.7 1522.7 124.7 1524.2 124.7 1525.7 124.7 1527.2 124.7 1528.7 124.7 1530.2 124.7 1531.7 124.7 1533.2 124.7 1534.7 124.7 1536.2 124.7 1537.7 124.7 1539.2 124.7 1540.7 124.7 1542.2 124.7 1543.7 124.7 1545.2 124.7 1546.7 124.7 1548.2 124.7 1549.7 124.7 1551.2 124.7 1552.7 124.7 1554.2 124.7 1555.7 124.7 1557.2 124.7 1558.7 124.7 1560.2 124.7 1561.7 124.7 1563.2 124.7 1564.7 124.7 1566.2 124.7 1567.7 124.7 1569.2 124.7 1570.7 124.7 1572.2 124.7 1573.7 124.7 1575.2 124.7 1576.7 124.7 1578.2 124.7 1579.7 124.7 1581.1 124.7 1582.6 124.7 1584.1 124.7 1585.6 124.7 1587.1 124.7 1588.6 124.7 1590.1 124.7 1591.6 124.7 1593.1 124.7 1594.6 124.7 1596.1 124.7 1597.6 124.7 1599.1 124.7 1600.6 124.7 1602.1 124.7 1603.6 124.7 1605.1 124.8 1606.6 124.8 1608.1 124.8 1609.6 124.8 1611.1 124.8 1612.6 124.8 1614.1 124.8 1615.6 124.8 1617.1 124.8 1618.6 124.8 1620.1 124.8 1621.6 124.8 1623.1 124.8 1624.6 124.8 1626.1 124.8 1627.6 124.8 1629.1 124.8 1630.6 124.8 1632.1 124.8 1633.6 124.8 1635.1 124.8 1636.6 124.8 1638.1 124.8 1639.6 124.8 1641.1 124.8 1642.6 124.8 1644.1 124.8 1645.6 124.8 1647.1 124.8 1648.6 124.8 1650.1 124.8 1651.6 124.8 1653.1 124.8 1654.6 124.8 1656.1 124.8 1657.6 124.8 1659.1 124.8 1660.6 124.8 1662.1 124.8 1663.6 124.8 1665.1 124.8 1666.6 124.8 1668.1 124.8 1669.6 124.8 1671.1 124.8 1672.6 124.8 1674.1 124.8 1675.6 124.8 1677.1 124.8 1678.6 124.8 1680.1 124.8 1681.6 124.8 1683.1 124.8 1684.6 124.8 1686.1 124.8 1687.6 124.8 1689.1 124.8 1690.6 124.8 1692.1 124.8 1693.6 124.8 1695.1 124.8 1696.6 124.8 1698.1 124.8 1699.6 124.8 1701.1 124.8 1702.6 124.8 1704.1 124.8 1705.6 124.8 1707.1 124.8 1708.6 124.8 1710.1 124.8 1711.6 124.8 1713.1 124.8 1714.6 124.8 1716.1 124.8 1717.6 124.8 1719.1 124.8 1720.6 124.8 1722.1 124.8 1723.6 124.8 1725.1 124.8 1726.6 124.8 1728.1 124.8 1729.6 124.8 1731.1 124.8 1732.6 124.8 1734.1 124.8 1735.6 124.8 1737.1 124.8 1738.6 124.8 1740.1 124.8 1741.6 124.8 1743.1 124.9 1744.6 124.9 1746.1 124.9 1747.6 124.9 1749.1 124.9 1750.6 124.9 1752.1 124.9 1753.6 124.9 1755.1 124.9 1756.6 124.8 1758.0 124.8 1759.5 124.8 1761.0 124.8 1762.5 124.8 1764.0 124.8 1765.5 124.8 1767.0 124.8 1768.5 124.8 1770.0 124.8 1771.5 124.8 1773.0 124.8 1774.5 124.8 1776.0 124.8 1777.5 124.8 1779.0 124.8 1780.5 124.8 1782.0 124.8 1783.5 124.8 1785.0 124.8 1786.5 124.8 1788.0 124.8 1789.5 124.8 1791.0 124.8 1792.5 124.8 1794.0 124.8 1795.5 124.8 1797.0 124.8 1798.5 124.8 1800.0 124.8 1801.5 124.8 1803.0 124.8 1804.5 124.8 1806.0 124.8 1807.5 124.8 1809.0 124.8 1810.5 124.8 1812.0 124.8 1813.5 124.8 1815.0 124.8" stroke="#00ffff" stroke-width="5.2" stroke-linecap="round" stroke-dasharray="23 31.6" stroke-dashoffset="4.5"/>
<path d="M244.0 1116.0L245.7 1116.5 247.3 1116.9 249.0 1117.3 250.6 1117.7 252.3 1118.0 253.9 1118.2 255.5 1118.5 257.0 1118.7 258.6 1118.8 260.1 1119.0 261.7 1119.0 263.2 1119.1 264.7 1119.1 266.1 1119.1 267.6 1119.0 269.1 1118.9" stroke="#ff00ff" stroke-width="5.2" stroke-linecap="round"/>
<path d="M244.0 1116.0L245.7 1116.5 247.3 1116.9 249.0 1117.3 250.6 1117.7 252.3 1118.0 253.9 1118.2 255.5 1118.5 257.0 1118.7 258.6 1118.8 260.1 1119.0 261.7 1119.0 263.2 1119.1 264.7 1119.1 266.1 1119.1 267.6 1119.0 269.1 1118.9 270.5 1118.8 271.9 1118.7 273.4 1118.5 274.8 1118.3 276.1 1118.0 277.5 1117.7 278.9 1117.4 280.2 1117.1 281.6 1116.7 282.9 1116.3 284.2 1115.9 285.5 1115.5 286.8 1115.0 288.0 1114.5 289.3 1113.9 290.6 1113.4 291.8 1112.8 293.0 1112.2 294.3 1111.5 295.5 1110.9 296.7 1110.2 297.9 1109.5 299.0 1108.8 300.2 1108.0 301.4 1107.3 302.5 1106.5 303.7 1105.7 304.8 1104.8 305.9 1104.0 307.1 1103.1 308.2 1102.2 309.3 1101.3 310.4 1100.4 311.4 1099.4 312.5 1098.5 313.6 1097.5 314.7 1096.5 315.7 1095.5 316.8 1094.5 317.8 1093.5 318.9 1092.4 319.9 1091.4 320.9 1090.3 321.9 1089.2 323.0 1088.1 324.0 1087.0 325.0 1085.9 326.0 1084.8 327.0 1083.6 328.0 1082.5 328.9 1081.3 329.9 1080.2 330.9 1079.0 331.9 1077.8 332.8 1076.7 333.8 1075.5 334.8 1074.3 335.7 1073.1 336.7 1071.9 337.7 1070.7 338.6 1069.5 339.6 1068.2 340.5 1067.0 341.5 1065.8 342.4 1064.6 343.4 1063.4 344.3 1062.1 345.2 1060.9 346.2 1059.7 347.1 1058.5 348.1 1057.3 349.0 1056.0 349.9 1054.8 350.9 1053.6 351.8 1052.4 352.8 1051.2 353.7 1050.0 354.6 1048.7 355.6 1047.5 356.5 1046.3 357.4 1045.1 358.4 1043.9 359.3 1042.7 360.3 1041.5 361.2 1040.3 362.1 1039.1 363.1 1037.9 364.0 1036.7 364.9 1035.5 365.9 1034.3 366.8 1033.1 367.7 1031.9 368.6 1030.7 369.6 1029.5 370.5 1028.3 371.4 1027.1 372.4 1025.9 373.3 1024.7 374.2 1023.5 375.2 1022.3 376.1 1021.1 377.0 1020.0 377.9 1018.8 378.9 1017.6 379.8 1016.4 380.7 1015.2 381.6 1014.0 382.6 1012.8 383.5 1011.6 384.4 1010.5 385.3 1009.3 386.3 1008.1 387.2 1006.9 388.1 1005.7 389.0 1004.5 389.9 1003.4 390.9 1002.2 391.8 1001.0 392.7 999.8 393.6 998.6 394.6 997.4 395.5 996.3 396.4 995.1 397.3 993.9 398.2 992.7 399.1 991.5 400.1 990.4 401.0 989.2 401.9 988.0 402.8 986.8 403.7 985.6 404.6 984.5 405.6 983.3 406.5 982.1 407.4 980.9 408.3 979.7 409.2 978.6 410.1 977.4 411.0 976.2 412.0 975.0 412.9 973.8 413.8 972.7 414.7 971.5 415.6 970.3 416.5 969.1 417.4 967.9 418.3 966.7 419.3 965.6 420.2 964.4 421.1 963.2 422.0 962.0 422.9 960.8 423.8 959.6 424.7 958.5 425.6 957.3 426.5 956.1 427.4 954.9 428.3 953.7 429.2 952.5 430.2 951.3 431.1 950.2 432.0 949.0 432.9 947.8 433.8 946.6 434.7 945.4 435.6 944.2 436.5 943.0 437.4 941.8 438.3 940.7 439.2 939.5 440.1 938.3 441.0 937.1 441.9 935.9 442.8 934.7 443.7 933.5 444.6 932.3 445.5 931.1 446.4 929.9 447.3 928.7 448.2 927.5 449.1 926.4 450.0 925.2 450.9 924.0 451.8 922.8 452.7 921.6 453.6 920.4 454.5 919.2 455.4 918.0 456.3 916.8 457.2 915.6 458.1 914.4 459.0 913.2 459.9 912.0 460.8 910.8 461.7 909.6 462.6 908.4 463.5 907.2 464.4 906.0 465.3 904.8 466.2 903.6 467.1 902.4 468.0 901.2 468.9 900.0 469.8 898.8 470.7 897.6 471.6 896.4 472.5 895.2 473.4 894.0 474.2 892.8 475.1 891.6 476.0 890.4 476.9 889.2 477.8 888.0 478.7 886.8 479.6 885.6 480.5 884.4 481.4 883.2 482.3 882.0 483.2 880.8 484.1 879.6 485.0 878.4 485.9 877.2 486.7 876.0 487.6 874.8 488.5 873.6 489.4 872.4 490.3 871.2 491.2 870.0 492.1 868.8 493.0 867.6 493.9 866.4 494.8 865.2 495.7 864.0 496.6 862.8 497.4 861.6 498.3 860.4 499.2 859.1 500.1 857.9 501.0 856.7 501.9 855.5 502.8 854.3 503.7 853.1 504.6 851.9 505.5 850.7 506.3 849.5 507.2 848.3 508.1 847.1 509.0 845.9 509.9 844.7 510.8 843.5 511.7 842.3 512.6 841.0 513.5 839.8 514.3 838.6 515.2 837.4 516.1 836.2 517.0 835.0 517.9 833.8 518.8 832.6 519.7 831.4 520.6 830.2 521.5 829.0 522.3 827.8 523.2 826.5 524.1 825.3 525.0 824.1 525.9 822.9 526.8 821.7 527.7 820.5 528.6 819.3 529.4 818.1 530.3 816.9 531.2 815.7 532.1 814.5 533.0 813.2 533.9 812.0 534.8 810.8 535.7 809.6 536.6 808.4 537.4 807.2 538.3 806.0 539.2 804.8 540.1 803.6 541.0 802.4 541.9 801.2 542.8 799.9 543.7 798.7 544.5 797.5 545.4 796.3 546.3 795.1 547.2 793.9 548.1 792.7 549.0 791.5 549.9 790.3 550.8 789.1 551.6 787.8 552.5 786.6 553.4 785.4 554.3 784.2 555.2 783.0 556.1 781.8 557.0 780.6 557.9 779.4 558.8 778.2 559.6 777.0 560.5 775.7 561.4 774.5 562.3 773.3 563.2 772.1 564.1 770.9 565.0 769.7 565.9 768.5 566.8 767.3 567.6 766.1 568.5 764.9 569.4 763.7 570.3 762.4 571.2 761.2 572.1 760.0 573.0 758.8 573.9 757.6 574.8 756.4 575.7 755.2 576.5 754.0 577.4 752.8 578.3 751.6 579.2 750.4 580.1 749.1 581.0 747.9 581.9 746.7 582.8 745.5 583.7 744.3 584.6 743.1 585.5 741.9 586.3 740.7 587.2 739.5 588.1 738.3 589.0 737.1 589.9 735.9 590.8 734.7 591.7 733.4 592.6 732.2 593.5 731.0 594.4 729.8 595.3 728.6 596.2 727.4 597.0 726.2 597.9 725.0 598.8 723.8 599.7 722.6 600.6 721.4 601.5 720.2 602.4 719.0 603.3 717.8 604.2 716.5 605.1 715.3 606.0 714.1 606.9 712.9 607.8 711.7 608.7 710.5 609.5 709.3 610.4 708.1 611.3 706.9 612.2 705.7 613.1 704.5 614.0 703.3 614.9 702.1 615.8 700.9 616.7 699.7 617.6 698.5 618.5 697.3 619.4 696.0 620.3 694.8 621.2 693.6 622.1 692.4 623.0 691.2 623.9 690.0 624.8 688.8 625.6 687.6 626.5 686.4 627.4 685.2 628.3 684.0 629.2 682.8 630.1 681.6 631.0 680.4 631.9 679.2 632.8 678.0 633.7 676.8 634.6 675.6 635.5 674.4 636.4 673.2 637.3 671.9 638.2 670.7 639.1 669.5 640.0 668.3 640.9 667.1 641.8 665.9 642.7 664.7 643.6 663.5 644.5 662.3 645.4 661.1 646.3 659.9 647.2 658.7 648.0 657.5 648.9 656.3 649.8 655.1 650.7 653.9 651.6 652.7 652.5 651.5 653.4 650.3 654.3 649.1 655.2 647.9 656.1 646.7 657.0 645.5 657.9 644.3 658.8 643.1 659.7 641.9 660.6 640.7 661.5 639.5 662.4 638.3 663.3 637.1 664.2 635.9 665.1 634.6 666.0 633.4 666.9 632.2 667.8 631.0 668.7 629.8 669.6 628.6 670.5 627.4 671.4 626.2 672.3 625.0 673.2 623.8 674.1 622.6 675.0 621.4 675.9 620.2 676.8 619.0 677.7 617.8 678.6 616.6 679.5 615.4 680.4 614.2 681.3 613.0 682.2 611.8 683.1 610.6 684.0 609.4 684.9 608.2 685.8 607.0 686.7 605.8 687.6 604.6 688.5 603.4 689.4 602.2 690.3 601.0 691.2 599.8 692.1 598.6 693.0 597.4 693.9 596.2 694.8 595.0 695.7 593.8 696.6 592.6 697.5 591.4 698.4 590.2 699.3 589.0 700.2 587.8 701.1 586.6 702.0 585.4 702.9 584.2 703.8 583.0 704.7 581.8 705.6 580.6 706.5 579.4 707.4 578.2 708.3 577.0 709.2 575.8 710.1 574.6 711.0 573.4 711.9 572.2 712.8 571.0 713.7 569.8 714.6 568.6 715.5 567.4 716.4 566.2 717.3 565.0 718.2 563.8 719.1 562.6 720.0 561.4 720.9 560.2 721.8 559.0 722.7 557.8 723.6 556.6 724.5 555.4 725.4 554.2 726.4 553.0 727.3 551.8 728.2 550.6 729.1 549.4 730.0 548.2 730.9 547.0 731.8 545.9 732.7 544.7 733.6 543.5 734.5 542.3 735.4 541.1 736.3 539.9 737.2 538.7 738.1 537.5 739.0 536.3 739.9 535.1 740.8 533.9 741.7 532.7 742.6 531.5 743.5 530.3 744.4 529.1 745.3 527.9 746.2 526.7 747.1 525.5 748.0 524.3 748.9 523.1 749.8 521.9 750.7 520.7 751.6 519.5 752.6 518.3 753.5 517.1 754.4 515.9 755.3 514.7 756.2 513.5 757.1 512.3 758.0 511.1 758.9 509.9 759.8 508.8 760.7 507.6 761.6 506.4 762.5 505.2 763.4 504.0 764.3 502.8 765.2 501.6 766.1 500.4 767.0 499.2 767.9 498.0 768.8 496.8 769.7 495.6 770.6 494.4 771.5 493.2 772.5 492.0 773.4 490.8 774.3 489.6 775.2 488.4 776.1 487.2 777.0 486.0 777.9 484.8 778.8 483.7 779.7 482.5 780.6 481.3 781.5 480.1 782.4 478.9 783.3 477.7 784.2 476.5 785.1 475.3 786.0 474.1 786.9 472.9 787.8 471.7 788.8 470.5 789.7 469.3 790.6 468.1 791.5 466.9 792.4 465.7 793.3 464.6 794.2 463.4 795.1 462.2 796.0 461.0 796.9 459.8 797.8 458.6 798.7 457.4 799.6 456.2 800.5 455.0 801.4 453.8 802.3 452.6 803.3 451.4 804.2 450.2 805.1 449.0 806.0 447.8 806.9 446.7 807.8 445.5 808.7 444.3 809.6 443.1 810.5 441.9 811.4 440.7 812.3 439.5 813.2 438.3 814.1 437.1 815.0 435.9 815.9 434.7 816.9 433.5 817.8 432.3 818.7 431.2 819.6 430.0 820.5 428.8 821.4 427.6 822.3 426.4 823.2 425.2 824.1 424.0 825.0 422.8 825.9 421.6 826.8 420.4 827.7 419.2 828.7 418.0 829.6 416.9 830.5 415.7 831.4 414.5 832.3 413.3 833.2 412.1 834.1 410.9 835.0 409.7 835.9 408.5 836.8 407.3 837.7 406.1 838.6 404.9 839.5 403.8 840.4 402.6 841.4 401.4 842.3 400.2 843.2 399.0 844.1 397.8 845.0 396.6 845.9 395.4 846.8 394.2 847.7 393.0 848.6 391.9 849.5 390.7 850.4 389.5 851.3 388.3 852.3 387.1 853.2 385.9 854.1 384.7 855.0 383.5 855.9 382.3 856.8 381.1 857.7 380.0 858.6 378.8 859.5 377.6 860.4 376.4 861.3 375.2 862.2 374.0 863.2 372.8 864.1 371.6 865.0 370.4 865.9 369.3 866.8 368.1 867.7 366.9 868.6 365.7 869.5 364.5 870.4 363.3 871.3 362.1 872.2 360.9 873.1 359.7 874.1 358.6 875.0 357.4 875.9 356.2 876.8 355.0 877.7 353.8 878.6 352.6 879.5 351.4 880.4 350.2 881.3 349.1 882.2 347.9 883.1 346.7 884.0 345.5 885.0 344.3 885.9 343.1 886.8 341.9 887.7 340.7 888.6 339.6 889.5 338.4 890.4 337.2 891.3 336.0 892.2 334.8 893.2 333.6 894.1 332.4 895.0 331.3 895.9 330.1 896.8 328.9 897.7 327.7 898.6 326.5 899.6 325.3 900.5 324.1 901.4 323.0 902.3 321.8 903.2 320.6 904.1 319.4 905.1 318.2 906.0 317.0 906.9 315.9 907.8 314.7 908.7 313.5 909.7 312.3 910.6 311.1 911.5 310.0 912.4 308.8 913.3 307.6 914.3 306.4 915.2 305.2 916.1 304.1 917.0 302.9 918.0 301.7 918.9 300.5 919.8 299.3 920.8 298.2 921.7 297.0 922.6 295.8 923.6 294.6 924.5 293.5 925.4 292.3 926.4 291.1 927.3 289.9 928.2 288.8 929.2 287.6 930.1 286.4 931.0 285.2 932.0 284.1 932.9 282.9 933.9 281.7 934.8 280.6 935.8 279.4 936.7 278.2 937.7 277.0 938.6 275.9 939.6 274.7 940.5 273.5 941.5 272.4 942.4 271.2 943.4 270.0 944.3 268.9 945.3 267.7 946.2 266.5 947.2 265.4 948.2 264.2 949.1 263.0 950.1 261.9 951.0 260.7 952.0 259.6 953.0 258.4 953.9 257.2 954.9 256.1 955.9 254.9 956.9 253.8 957.8 252.6 958.8 251.4 959.8 250.3 960.8 249.1 961.7 248.0 962.7 246.8 963.7 245.7 964.7 244.5 965.7 243.4 966.7 242.2 967.7 241.1 968.7 239.9 969.6 238.8 970.6 237.6 971.6 236.5 972.6 235.3 973.6 234.2 974.6 233.1 975.7 231.9 976.7 230.8 977.7 229.7 978.7 228.5 979.7 227.4 980.7 226.3 981.7 225.2 982.8 224.0 983.8 222.9 984.8 221.8 985.8 220.7 986.9 219.6 987.9 218.5 988.9 217.4 990.0 216.3 991.0 215.2 992.1 214.1 993.1 213.0 994.2 211.9 995.2 210.9 996.3 209.8 997.4 208.7 998.4 207.6 999.5 206.6 1000.6 205.5 1001.6 204.5 1002.7 203.4 1003.8 202.4 1004.9 201.3 1006.0 200.3 1007.1 199.3 1008.2 198.3 1009.3 197.2 1010.4 196.2 1011.5 195.2 1012.6 194.2 1013.7 193.2 1014.8 192.2 1015.9 191.2 1017.1 190.2 1018.2 189.3 1019.3 188.3 1020.5 187.3 1021.6 186.4 1022.8 185.4 1023.9 184.5 1025.1 183.6 1026.2 182.6 1027.4 181.7 1028.6 180.8 1029.7 179.9 1030.9 179.0 1032.1 178.1 1033.3 177.2 1034.5 176.3 1035.7 175.4 1036.9 174.6 1038.1 173.7 1039.3 172.8 1040.5 172.0 1041.7 171.2 1042.9 170.3 1044.2 169.5 1045.4 168.7 1046.6 167.9 1047.9 167.1 1049.1 166.3 1050.4 165.5 1051.6 164.8 1052.9 164.0 1054.2 163.3 1055.5 162.5 1056.7 161.8 1058.0 161.1 1059.3 160.3 1060.6 159.6 1061.9 158.9 1063.2 158.2 1064.5 157.5 1065.8 156.9 1067.1 156.2 1068.5 155.5 1069.8 154.9 1071.1 154.2 1072.5 153.6 1073.8 153.0 1075.1 152.3 1076.5 151.7 1077.8 151.1 1079.2 150.5 1080.6 149.9 1081.9 149.3 1083.3 148.8 1084.7 148.2 1086.0 147.6 1087.4 147.1 1088.8 146.5 1090.2 146.0 1091.6 145.5 1093.0 145.0 1094.4 144.4 1095.8 143.9 1097.2 143.4 1098.6 142.9 1100.0 142.5 1101.4 142.0 1102.8 141.5 1104.2 141.0 1105.6 140.6 1107.1 140.1 1108.5 139.7 1109.9 139.3 1111.4 138.8 1112.8 138.4 1114.2 138.0 1115.7 137.6 1117.1 137.2 1118.6 136.8 1120.0 136.4 1121.4 136.0 1122.9 135.7 1124.4 135.3 1125.8 134.9 1127.3 134.6 1128.7 134.2 1130.2 133.9 1131.6 133.6 1133.1 133.2 1134.6 132.9 1136.0 132.6 1137.5 132.3 1139.0 132.0 1140.5 131.7 1141.9 131.4 1143.4 131.1 1144.9 130.8 1146.4 130.6 1147.8 130.3 1149.3 130.1 1150.8 129.8 1152.3 129.6 1153.8 129.3 1155.3 129.1 1156.7 128.9 1158.2 128.6 1159.7 128.4 1161.2 128.2 1162.7 128.0 1164.2 127.8 1165.7 127.6 1167.2 127.4 1168.6 127.3 1170.1 127.1 1171.6 126.9 1173.1 126.8 1174.6 126.6 1176.1 126.4 1177.6 126.3 1179.1 126.2 1180.6 126.0 1182.1 125.9 1183.6 125.8 1185.1 125.6 1186.6 125.5 1188.0 125.4 1189.5 125.3 1191.0 125.2 1192.5 125.1 1194.0 125.0 1195.5 124.9 1197.0 124.8 1198.5 124.8 1200.0 124.7 1201.5 124.6 1203.0 124.5 1204.5 124.5 1206.0 124.4 1207.5 124.4 1209.0 124.3 1210.5 124.3 1212.0 124.2 1213.5 124.2 1215.0 124.1 1216.5 124.1 1218.0 124.1 1219.5 124.0 1221.0 124.0 1222.5 124.0 1224.0 123.9 1225.5 123.9 1227.0 123.9 1228.5 123.9 1230.0 123.9 1231.5 123.9 1233.0 123.9 1234.5 123.9 1236.0 123.9 1237.5 123.9 1239.0 123.9 1240.5 123.9 1242.0 123.9 1243.5 123.9 1245.0 123.9 1246.5 123.9 1248.0 123.9 1249.5 123.9 1251.0 124.0 1252.5 124.0 1254.0 124.0 1255.5 124.0 1257.0 124.0 1258.5 124.1 1260.0 124.1 1261.5 124.1 1263.0 124.1 1264.5 124.2 1266.0 124.2 1267.5 124.2 1269.0 124.3 1270.5 124.3 1272.0 124.3 1273.5 124.3 1275.0 124.4 1276.5 124.4 1278.0 124.4 1279.5 124.5 1281.0 124.5 1282.5 124.5 1284.0 124.5 1285.5 124.6 1287.0 124.6 1288.5 124.6 1290.1 124.7 1291.6 124.7 1293.1 124.7 1294.6 124.7 1296.1 124.8 1297.6 124.8 1299.1 124.8 1300.6 124.8 1302.1 124.9 1303.6 124.9 1305.1 124.9 1306.6 124.9 1308.1 124.9 1309.6 125.0 1311.1 125.0 1312.6 125.0 1314.1 125.0 1315.6 125.0 1317.1 125.0 1318.6 125.1 1320.1 125.1 1321.6 125.1 1323.1 125.1 1324.6 125.1 1326.1 125.1 1327.6 125.1 1329.1 125.2 1330.6 125.2 1332.1 125.2 1333.6 125.2 1335.1 125.2 1336.6 125.2 1338.1 125.2 1339.6 125.2 1341.1 125.2 1342.6 125.3 1344.1 125.3 1345.6 125.3 1347.1 125.3 1348.6 125.3 1350.1 125.3 1351.6 125.3 1353.1 125.3 1354.6 125.3 1356.1 125.3 1357.6 125.3 1359.1 125.3 1360.6 125.3 1362.1 125.3 1363.6 125.3 1365.1 125.3 1366.6 125.3 1368.1 125.3 1369.6 125.3 1371.1 125.3 1372.6 125.3 1374.1 125.3 1375.6 125.3 1377.1 125.3 1378.6 125.3 1380.1 125.3 1381.6 125.3 1383.1 125.3 1384.6 125.3 1386.1 125.3 1387.6 125.3 1389.1 125.3 1390.6 125.3 1392.1 125.3 1393.6 125.3 1395.1 125.3 1396.6 125.3 1398.1 125.3 1399.6 125.3 1401.1 125.3 1402.6 125.3 1404.1 125.3 1405.6 125.3 1407.1 125.3 1408.6 125.3 1410.1 125.3 1411.6 125.3 1413.1 125.3 1414.6 125.2 1416.1 125.2 1417.6 125.2 1419.1 125.2 1420.6 125.2 1422.1 125.2 1423.6 125.2 1425.1 125.2 1426.6 125.2 1428.1 125.2 1429.6 125.2 1431.1 125.2 1432.6 125.2 1434.1 125.1 1435.6 125.1 1437.1 125.1 1438.6 125.1 1440.1 125.1 1441.6 125.1 1443.1 125.1 1444.6 125.1 1446.1 125.1 1447.6 125.1 1449.1 125.1 1450.6 125.0 1452.1 125.0 1453.6 125.0 1455.1 125.0 1456.6 125.0 1458.1 125.0 1459.6 125.0 1461.1 125.0 1462.6 125.0 1464.1 125.0 1465.6 124.9 1467.0 124.9 1468.5 124.9 1470.0 124.9 1471.5 124.9 1473.0 124.9 1474.5 124.9 1476.0 124.9 1477.5 124.9 1479.0 124.9 1480.5 124.8 1482.0 124.8 1483.5 124.8 1485.0 124.8 1486.5 124.8 1488.0 124.8 1489.5 124.8 1491.0 124.8 1492.5 124.8 1494.0 124.8 1495.5 124.7 1497.0 124.7 1498.5 124.7 1500.0 124.7 1501.5 124.7 1503.0 124.7 1504.5 124.7 1506.0 124.7 1507.5 124.7 1509.0 124.7 1510.5 124.7 1512.0 124.6 1513.5 124.6 1515.0 124.6 1516.5 124.6 1518.0 124.6 1519.5 124.6 1521.0 124.6 1522.5 124.6 1524.0 124.6 1525.5 124.6 1527.0 124.6 1528.5 124.6 1530.0 124.6 1531.5 124.5 1533.0 124.5 1534.5 124.5 1536.0 124.5 1537.5 124.5 1539.0 124.5 1540.5 124.5 1542.0 124.5 1543.5 124.5 1545.0 124.5 1546.5 124.5 1548.0 124.5 1549.5 124.5 1551.0 124.5 1552.5 124.5 1554.0 124.5 1555.5 124.5 1557.0 124.5 1558.5 124.5 1560.0 124.5 1561.5 124.5 1563.0 124.5 1564.5 124.5 1566.0 124.5 1567.5 124.5 1569.0 124.5 1570.5 124.5 1572.0 124.5 1573.5 124.5 1575.0 124.5 1576.5 124.5 1578.0 124.5 1579.5 124.5 1581.0 124.5 1582.5 124.5 1584.0 124.5 1585.5 124.5 1587.0 124.5 1588.5 124.5 1590.0 124.5 1591.5 124.5 1593.0 124.5 1594.5 124.5 1596.0 124.5 1597.5 124.5 1599.0 124.5 1600.5 124.5 1602.0 124.5 1603.5 124.5 1605.0 124.5 1606.5 124.5 1608.0 124.5 1609.5 124.5 1611.0 124.5 1612.5 124.6 1614.0 124.6 1615.5 124.6 1617.0 124.6 1618.5 124.6 1620.0 124.6 1621.5 124.6 1623.0 124.6 1624.5 124.6 1626.0 124.6 1627.5 124.6 1629.0 124.6 1630.5 124.6 1632.0 124.6 1633.5 124.6 1635.0 124.6 1636.5 124.6 1638.0 124.7 1639.5 124.7 1641.0 124.7 1642.5 124.7 1644.0 124.7 1645.5 124.7 1647.0 124.7 1648.5 124.7 1650.0 124.7 1651.5 124.7 1653.0 124.7 1654.5 124.7 1656.0 124.7 1657.5 124.7 1659.0 124.8 1660.5 124.8 1662.0 124.8 1663.5 124.8 1665.0 124.8 1666.5 124.8 1668.0 124.8 1669.5 124.8 1671.0 124.8 1672.5 124.8 1674.0 124.8 1675.5 124.8 1677.0 124.8 1678.5 124.8 1680.0 124.9 1681.5 124.9 1683.0 124.9 1684.5 124.9 1686.0 124.9 1687.5 124.9 1689.0 124.9 1690.5 124.9 1692.0 124.9 1693.5 124.9 1695.0 124.9 1696.5 124.9 1698.0 124.9 1699.5 124.9 1701.0 124.9 1702.5 124.9 1704.0 124.9 1705.5 125.0 1707.0 125.0 1708.5 125.0 1710.0 125.0 1711.5 125.0 1713.0 125.0 1714.5 125.0 1716.0 125.0 1717.5 125.0 1719.0 125.0 1720.5 125.0 1722.0 125.0 1723.5 125.0 1725.0 125.0 1726.5 125.0 1728.0 125.0 1729.5 125.0 1731.0 125.0 1732.5 125.0 1734.0 125.0 1735.5 125.0 1737.0 125.0 1738.5 125.0 1740.0 125.0 1741.5 125.0 1743.0 125.0 1744.5 125.0 1746.0 125.0 1747.5 125.0 1749.0 125.0 1750.5 125.0 1752.0 125.0 1753.5 125.0 1755.0 125.0 1756.5 125.0 1758.0 125.0 1759.5 125.0 1761.0 125.0 1762.5 125.0 1764.0 125.0 1765.5 125.0 1767.0 125.0 1768.5 125.0 1770.0 125.0 1771.5 125.0 1773.0 125.0 1774.5 125.0 1776.0 125.0 1777.5 125.0 1779.0 125.0 1780.5 125.0 1782.0 125.0 1783.5 125.0 1785.0 125.0 1786.5 125.0 1788.0 125.0 1789.5 125.0 1791.0 125.0 1792.5 124.9 1794.0 124.9 1795.5 124.9 1797.0 124.9 1798.5 124.9 1800.0 124.9 1801.5 124.9 1803.0 124.9 1804.5 124.9 1806.0 124.9 1807.5 124.9 1809.0 124.8 1810.5 124.8 1812.0 124.8 1813.5 124.8 1815.0 124.8" stroke="#ff00ff" stroke-width="5.2" stroke-linecap="round" stroke-dasharray="23 31.9" stroke-dashoffset="7.5"/>
</g>
<rect x="240" y="23.6" width="3" height="1194" fill="#bebeb8"/>
<rect x="243" y="23.6" width="2.2" height="1194" fill="#808080"/>
<rect x="240" y="1212.3" width="1575" height="2.7" fill="#808080"/>
<rect x="240" y="1215" width="1575" height="2.7" fill="#b6b6b2"/>
<rect x="240" y="21.5" width="1583" height="1.6" fill="#e0e0e0"/>
<rect x="240" y="23.4" width="1583" height="2.8" fill="#000"/>
<rect x="242" y="26.2" width="1581" height="2.2" fill="#707070"/>
<rect x="1810.6" y="23.4" width="4.6" height="1194" fill="#111"/>
<g stroke="#000" stroke-width="4">
<line x1="220.5" y1="1145.0" x2="243.0" y2="1145.0"/>
<line x1="220.5" y1="935.0" x2="243.0" y2="935.0"/>
<line x1="220.5" y1="725.0" x2="243.0" y2="725.0"/>
<line x1="220.5" y1="515.0" x2="243.0" y2="515.0"/>
<line x1="220.5" y1="305.0" x2="243.0" y2="305.0"/>
<line x1="220.5" y1="95.0" x2="243.0" y2="95.0"/>
<line x1="232.5" y1="1040.0" x2="243.0" y2="1040.0"/>
<line x1="232.5" y1="830.0" x2="243.0" y2="830.0"/>
<line x1="232.5" y1="620.0" x2="243.0" y2="620.0"/>
<line x1="232.5" y1="410.0" x2="243.0" y2="410.0"/>
<line x1="232.5" y1="200.0" x2="243.0" y2="200.0"/>
<line x1="243.5" y1="1215.0" x2="243.5" y2="1237.3"/>
<line x1="523.7" y1="1215.0" x2="523.7" y2="1237.3"/>
<line x1="803.9" y1="1215.0" x2="803.9" y2="1237.3"/>
<line x1="1084.0" y1="1215.0" x2="1084.0" y2="1237.3"/>
<line x1="1364.2" y1="1215.0" x2="1364.2" y2="1237.3"/>
<line x1="1644.4" y1="1215.0" x2="1644.4" y2="1237.3"/>
<line x1="383.6" y1="1215.0" x2="383.6" y2="1226.5"/>
<line x1="663.8" y1="1215.0" x2="663.8" y2="1226.5"/>
<line x1="944.0" y1="1215.0" x2="944.0" y2="1226.5"/>
<line x1="1224.1" y1="1215.0" x2="1224.1" y2="1226.5"/>
<line x1="1504.3" y1="1215.0" x2="1504.3" y2="1226.5"/>
<line x1="1784.5" y1="1215.0" x2="1784.5" y2="1226.5"/>
<line x1="1813.0" y1="1115.0" x2="1835.0" y2="1115.0"/>
<line x1="1813.0" y1="916.8" x2="1835.0" y2="916.8"/>
<line x1="1813.0" y1="718.6" x2="1835.0" y2="718.6"/>
<line x1="1813.0" y1="520.4" x2="1835.0" y2="520.4"/>
<line x1="1813.0" y1="322.2" x2="1835.0" y2="322.2"/>
<line x1="1813.0" y1="124.0" x2="1835.0" y2="124.0"/>
<line x1="1813.0" y1="1214.1" x2="1823.0" y2="1214.1"/>
<line x1="1813.0" y1="1015.9" x2="1823.0" y2="1015.9"/>
<line x1="1813.0" y1="817.7" x2="1823.0" y2="817.7"/>
<line x1="1813.0" y1="619.5" x2="1823.0" y2="619.5"/>
<line x1="1813.0" y1="421.3" x2="1823.0" y2="421.3"/>
<line x1="1813.0" y1="223.1" x2="1823.0" y2="223.1"/>
<line x1="1813.0" y1="24.9" x2="1823.0" y2="24.9"/>
</g>
</g>
<text x="207.0" y="1130.5" font-size="61" text-anchor="end" transform="translate(0 0.00) scale(1 1.03)">720</text>
<text x="207.0" y="926.6" font-size="61" text-anchor="end" transform="translate(0 0.00) scale(1 1.03)">750</text>
<text x="207.0" y="722.7" font-size="61" text-anchor="end" transform="translate(0 0.00) scale(1 1.03)">780</text>
<text x="207.0" y="518.8" font-size="61" text-anchor="end" transform="translate(0 0.00) scale(1 1.03)">810</text>
<text x="207.0" y="315.0" font-size="61" text-anchor="end" transform="translate(0 0.00) scale(1 1.03)">840</text>
<text x="207.0" y="111.1" font-size="61" text-anchor="end" transform="translate(0 0.00) scale(1 1.03)">870</text>
<text x="243.5" y="1260.9" font-size="61" text-anchor="middle" transform="scale(1 1.03)">0</text>
<text x="523.7" y="1260.9" font-size="61" text-anchor="middle" transform="scale(1 1.03)">50</text>
<text x="803.9" y="1260.9" font-size="61" text-anchor="middle" transform="scale(1 1.03)">100</text>
<text x="1084.0" y="1260.9" font-size="61" text-anchor="middle" transform="scale(1 1.03)">150</text>
<text x="1364.2" y="1260.9" font-size="61" text-anchor="middle" transform="scale(1 1.03)">200</text>
<text x="1644.4" y="1260.9" font-size="61" text-anchor="middle" transform="scale(1 1.03)">250</text>
<text x="1849.5" y="1100.4" font-size="61" transform="scale(1 1.03)">0.0</text>
<text x="1849.5" y="908.0" font-size="61" transform="scale(1 1.03)">0.2</text>
<text x="1849.5" y="715.5" font-size="61" transform="scale(1 1.03)">0.4</text>
<text x="1849.5" y="523.1" font-size="61" transform="scale(1 1.03)">0.6</text>
<text x="1849.5" y="330.7" font-size="61" transform="scale(1 1.03)">0.8</text>
<text x="1849.5" y="138.3" font-size="61" transform="scale(1 1.03)">1.0</text>
<text font-size="71" text-anchor="middle" transform="translate(75.5 620.5) rotate(-90) scale(1 1.03)">Temperature (K)</text>
<text font-size="70.1" text-anchor="middle" transform="translate(1999.5 620.8) rotate(-90) scale(1 1.03)">Conversion (-)</text>
<text font-size="70.3" text-anchor="middle" transform="translate(1028.5 1409.4) scale(1 1.03)">Time (minute)</text>
<line x1="1387.3" y1="825.3" x2="1514.0" y2="825.3" stroke="#000" stroke-width="5.5"/>
<text font-size="53.6" transform="translate(1524.4 842.5) scale(1 1.03)">PFHS(T)</text>
<line x1="1387.3" y1="892.4" x2="1514.0" y2="892.4" stroke="#0000ff" stroke-width="5.5"/>
<text font-size="53.6" transform="translate(1524.4 909.6) scale(1 1.03)">PPFHS(T)</text>
<line x1="1387.3" y1="959.6" x2="1514.0" y2="959.6" stroke="#ff0000" stroke-width="5.5"/>
<text font-size="53.6" transform="translate(1524.4 976.8) scale(1 1.03)">HPPFHS(T)</text>
<g stroke="#00ff00" stroke-width="5.5"><line x1="1387.3" y1="1026.8" x2="1415.8" y2="1026.8"/><line x1="1441.3" y1="1026.8" x2="1469.8" y2="1026.8"/><line x1="1495.3" y1="1026.8" x2="1514.0" y2="1026.8"/></g>
<text font-size="53.6" transform="translate(1524.4 1044.0) scale(1 1.03)">PFHS(X)</text>
<g stroke="#00ffff" stroke-width="5.5"><line x1="1387.3" y1="1093.9" x2="1415.8" y2="1093.9"/><line x1="1441.3" y1="1093.9" x2="1469.8" y2="1093.9"/><line x1="1495.3" y1="1093.9" x2="1514.0" y2="1093.9"/></g>
<text font-size="53.6" transform="translate(1524.4 1111.1) scale(1 1.03)">PPFHS(X)</text>
<g stroke="#ff00ff" stroke-width="5.5"><line x1="1387.3" y1="1161.0" x2="1415.8" y2="1161.0"/><line x1="1441.3" y1="1161.0" x2="1469.8" y2="1161.0"/><line x1="1495.3" y1="1161.0" x2="1514.0" y2="1161.0"/></g>
<text font-size="53.6" transform="translate(1524.4 1178.2) scale(1 1.03)">HPPFHS(X)</text>
</svg></body></html>
